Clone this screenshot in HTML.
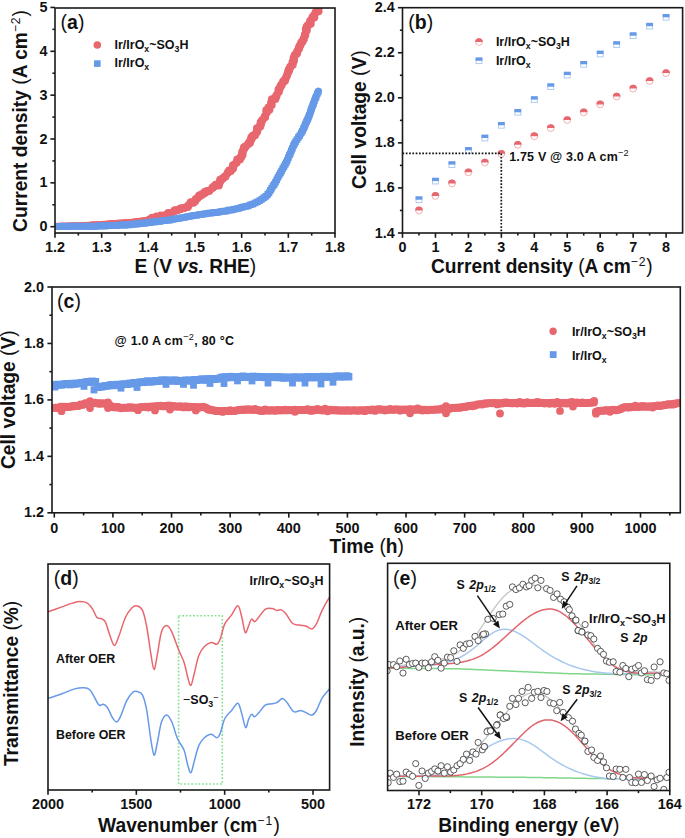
<!DOCTYPE html>
<html><head><meta charset="utf-8"><style>
html,body{margin:0;padding:0;background:#fff;width:685px;height:838px;overflow:hidden}
svg{display:block}
text{font-family:"Liberation Sans",sans-serif}
</style></head><body>
<svg width="685" height="838" viewBox="0 0 685 838">
<defs>
<clipPath id="ca"><rect x="55" y="8" width="280" height="225"/></clipPath>
<clipPath id="cc"><rect x="52" y="287" width="628.3" height="225.79999999999995"/></clipPath>
<clipPath id="ce"><rect x="387.6" y="563.3" width="282.19999999999993" height="227.20000000000005"/></clipPath>
</defs>
<rect width="685" height="838" fill="#fff"/>
<g clip-path="url(#ca)">
<path d="M55,226.3 C59.17,226.18 72.5,225.9 80,225.6 C87.5,225.3 91.67,225.03 100,224.5 C108.33,223.97 121.67,223.17 130,222.4 C138.33,221.63 144.17,221.2 150,219.9 C155.83,218.6 160.83,216.03 165,214.6 C169.17,213.17 171.67,212.45 175,211.3 C178.33,210.15 181.87,209.45 185,207.7 C188.13,205.95 190.38,203.18 193.8,200.8 C197.22,198.42 202.55,195.33 205.5,193.4 C208.45,191.47 209.42,190.73 211.5,189.2 C213.58,187.67 215.83,186.15 218,184.2 C220.17,182.25 222.33,179.95 224.5,177.5 C226.67,175.05 228.82,172.35 231,169.5 C233.18,166.65 235.82,162.93 237.6,160.4 C239.38,157.87 240.35,156.5 241.7,154.3 C243.05,152.1 244.35,149.58 245.7,147.2 C247.05,144.82 248.62,141.57 249.8,140 C250.98,138.43 251.02,140.55 252.8,137.8 C254.58,135.05 258.22,127.67 260.5,123.5 C262.78,119.33 264.72,116.18 266.5,112.8 C268.28,109.42 269.28,106.58 271.2,103.2 C273.12,99.82 276.03,95.88 278,92.5 C279.97,89.12 281.33,86.08 283,82.9 C284.67,79.72 286.5,76.38 288,73.4 C289.5,70.42 290.83,67.78 292,65 C293.17,62.22 293.98,59.47 295,56.7 C296.02,53.93 296.88,50.98 298.1,48.4 C299.32,45.82 301.13,43.77 302.3,41.2 C303.47,38.63 303.43,36.88 305.1,33 C306.77,29.12 310.2,21.77 312.3,17.9 C314.4,14.03 316.42,11.7 317.7,9.8 C318.98,7.9 319.62,7.05 320,6.5" fill="none" stroke="#e8676f" stroke-width="6.8" stroke-linejoin="round" stroke-linecap="round" />
<circle cx="57.4" cy="226.23" r="3.5" fill="#e8676f"/>
<circle cx="59.8" cy="226.17" r="3.5" fill="#e8676f"/>
<circle cx="62.2" cy="226.1" r="3.5" fill="#e8676f"/>
<circle cx="64.6" cy="226.03" r="3.5" fill="#e8676f"/>
<circle cx="67" cy="225.96" r="3.5" fill="#e8676f"/>
<circle cx="69.39" cy="225.9" r="3.5" fill="#e8676f"/>
<circle cx="71.79" cy="225.83" r="3.5" fill="#e8676f"/>
<circle cx="74.19" cy="225.76" r="3.5" fill="#e8676f"/>
<circle cx="76.59" cy="225.7" r="3.5" fill="#e8676f"/>
<circle cx="78.99" cy="225.63" r="3.5" fill="#e8676f"/>
<circle cx="81.39" cy="225.52" r="3.5" fill="#e8676f"/>
<circle cx="83.78" cy="225.39" r="3.5" fill="#e8676f"/>
<circle cx="86.18" cy="225.26" r="3.5" fill="#e8676f"/>
<circle cx="88.58" cy="225.13" r="3.5" fill="#e8676f"/>
<circle cx="90.97" cy="225" r="3.5" fill="#e8676f"/>
<circle cx="93.37" cy="224.86" r="3.5" fill="#e8676f"/>
<circle cx="95.77" cy="224.73" r="3.5" fill="#e8676f"/>
<circle cx="98.16" cy="224.6" r="3.5" fill="#e8676f"/>
<circle cx="100.56" cy="224.46" r="3.5" fill="#e8676f"/>
<circle cx="102.95" cy="224.29" r="3.5" fill="#e8676f"/>
<circle cx="105.35" cy="224.13" r="3.5" fill="#e8676f"/>
<circle cx="107.74" cy="223.96" r="3.5" fill="#e8676f"/>
<circle cx="110.14" cy="223.79" r="3.5" fill="#e8676f"/>
<circle cx="112.53" cy="223.62" r="3.5" fill="#e8676f"/>
<circle cx="114.92" cy="223.46" r="3.5" fill="#e8676f"/>
<circle cx="117.32" cy="223.29" r="3.5" fill="#e8676f"/>
<circle cx="119.71" cy="223.12" r="3.5" fill="#e8676f"/>
<circle cx="122.11" cy="222.95" r="3.5" fill="#e8676f"/>
<circle cx="124.5" cy="222.78" r="3.5" fill="#e8676f"/>
<circle cx="126.89" cy="222.62" r="3.5" fill="#e8676f"/>
<circle cx="129.29" cy="222.45" r="3.5" fill="#e8676f"/>
<circle cx="131.67" cy="222.19" r="3.5" fill="#e8676f"/>
<circle cx="134.06" cy="221.89" r="3.5" fill="#e8676f"/>
<circle cx="136.44" cy="221.6" r="3.5" fill="#e8676f"/>
<circle cx="138.82" cy="221.3" r="3.5" fill="#e8676f"/>
<circle cx="141.2" cy="221" r="3.5" fill="#e8676f"/>
<circle cx="143.58" cy="220.7" r="3.5" fill="#e8676f"/>
<circle cx="145.96" cy="220.4" r="3.5" fill="#e8676f"/>
<circle cx="148.34" cy="220.11" r="3.5" fill="#e8676f"/>
<circle cx="149.54" cy="219.56" r="4.1" fill="#e8676f"/>
<circle cx="152.16" cy="217.94" r="4.1" fill="#e8676f"/>
<circle cx="154.16" cy="218.7" r="4.1" fill="#e8676f"/>
<circle cx="156.59" cy="216.65" r="4.1" fill="#e8676f"/>
<circle cx="159.48" cy="217.35" r="4.1" fill="#e8676f"/>
<circle cx="161" cy="215.54" r="4.1" fill="#e8676f"/>
<circle cx="164.39" cy="215.78" r="4.1" fill="#e8676f"/>
<circle cx="167.31" cy="214.97" r="4.1" fill="#e8676f"/>
<circle cx="168.29" cy="213.14" r="4.1" fill="#e8676f"/>
<circle cx="170.76" cy="213.51" r="4.1" fill="#e8676f"/>
<circle cx="174.48" cy="211" r="4.1" fill="#e8676f"/>
<circle cx="174.87" cy="210.42" r="4.1" fill="#e8676f"/>
<circle cx="177.27" cy="210.22" r="4.1" fill="#e8676f"/>
<circle cx="180.38" cy="208.87" r="4.1" fill="#e8676f"/>
<circle cx="181.24" cy="208.43" r="4.1" fill="#e8676f"/>
<circle cx="184.37" cy="207.97" r="4.1" fill="#e8676f"/>
<circle cx="187.71" cy="206.88" r="4.1" fill="#e8676f"/>
<circle cx="188.55" cy="205.23" r="4.1" fill="#e8676f"/>
<circle cx="190.82" cy="202.39" r="4.1" fill="#e8676f"/>
<circle cx="193.25" cy="202.66" r="4.1" fill="#e8676f"/>
<circle cx="195.11" cy="201.26" r="4.1" fill="#e8676f"/>
<circle cx="195.98" cy="199.02" r="4.1" fill="#e8676f"/>
<circle cx="197.31" cy="198.3" r="4.1" fill="#e8676f"/>
<circle cx="199.24" cy="195.66" r="4.1" fill="#e8676f"/>
<circle cx="201.62" cy="194.6" r="4.1" fill="#e8676f"/>
<circle cx="203.96" cy="193.05" r="4.1" fill="#e8676f"/>
<circle cx="205.15" cy="191.97" r="4.1" fill="#e8676f"/>
<circle cx="207.36" cy="191.1" r="4.1" fill="#e8676f"/>
<circle cx="209.14" cy="190.95" r="4.1" fill="#e8676f"/>
<circle cx="212.5" cy="187.8" r="4.1" fill="#e8676f"/>
<circle cx="213.53" cy="186.81" r="4.1" fill="#e8676f"/>
<circle cx="215.7" cy="184.81" r="4.1" fill="#e8676f"/>
<circle cx="218.77" cy="185.44" r="4.1" fill="#e8676f"/>
<circle cx="219.53" cy="182.5" r="4.1" fill="#e8676f"/>
<circle cx="220.29" cy="179.86" r="4.1" fill="#e8676f"/>
<circle cx="222.57" cy="178.53" r="4.1" fill="#e8676f"/>
<circle cx="225.4" cy="176.55" r="4.1" fill="#e8676f"/>
<circle cx="224.98" cy="176.58" r="4.1" fill="#e8676f"/>
<circle cx="227.71" cy="172.79" r="4.1" fill="#e8676f"/>
<circle cx="229.26" cy="170.64" r="4.1" fill="#e8676f"/>
<circle cx="230.73" cy="171.06" r="4.1" fill="#e8676f"/>
<circle cx="232.97" cy="168.46" r="4.1" fill="#e8676f"/>
<circle cx="232.93" cy="165.72" r="4.1" fill="#e8676f"/>
<circle cx="234.12" cy="164.75" r="4.1" fill="#e8676f"/>
<circle cx="236.4" cy="162.83" r="4.1" fill="#e8676f"/>
<circle cx="237.32" cy="159.55" r="4.1" fill="#e8676f"/>
<circle cx="239.81" cy="159.38" r="4.1" fill="#e8676f"/>
<circle cx="241.25" cy="156.96" r="4.1" fill="#e8676f"/>
<circle cx="242.5" cy="154.81" r="4.1" fill="#e8676f"/>
<circle cx="242.26" cy="152.18" r="4.1" fill="#e8676f"/>
<circle cx="243.75" cy="148.92" r="4.1" fill="#e8676f"/>
<circle cx="244.14" cy="147.43" r="4.1" fill="#e8676f"/>
<circle cx="245.88" cy="146.33" r="4.1" fill="#e8676f"/>
<circle cx="248.74" cy="143.66" r="4.1" fill="#e8676f"/>
<circle cx="249.88" cy="142.87" r="4.1" fill="#e8676f"/>
<circle cx="251.25" cy="139.41" r="4.1" fill="#e8676f"/>
<circle cx="251.42" cy="137.66" r="4.1" fill="#e8676f"/>
<circle cx="252.79" cy="135.75" r="4.1" fill="#e8676f"/>
<circle cx="254.96" cy="135.31" r="4.1" fill="#e8676f"/>
<circle cx="256.62" cy="132.18" r="4.1" fill="#e8676f"/>
<circle cx="257.3" cy="130.84" r="4.1" fill="#e8676f"/>
<circle cx="257.08" cy="128.39" r="4.1" fill="#e8676f"/>
<circle cx="260.2" cy="126.57" r="4.1" fill="#e8676f"/>
<circle cx="260.95" cy="123.73" r="4.1" fill="#e8676f"/>
<circle cx="260.75" cy="122.38" r="4.1" fill="#e8676f"/>
<circle cx="262.29" cy="120.31" r="4.1" fill="#e8676f"/>
<circle cx="265" cy="117.25" r="4.1" fill="#e8676f"/>
<circle cx="264.8" cy="116.48" r="4.1" fill="#e8676f"/>
<circle cx="266.75" cy="112.52" r="4.1" fill="#e8676f"/>
<circle cx="266.4" cy="110.33" r="4.1" fill="#e8676f"/>
<circle cx="269.32" cy="109.75" r="4.1" fill="#e8676f"/>
<circle cx="268.56" cy="107.64" r="4.1" fill="#e8676f"/>
<circle cx="271.62" cy="105.08" r="4.1" fill="#e8676f"/>
<circle cx="271.23" cy="102.7" r="4.1" fill="#e8676f"/>
<circle cx="271.99" cy="99.4" r="4.1" fill="#e8676f"/>
<circle cx="275.29" cy="98.9" r="4.1" fill="#e8676f"/>
<circle cx="275.52" cy="97.55" r="4.1" fill="#e8676f"/>
<circle cx="276.58" cy="95.38" r="4.1" fill="#e8676f"/>
<circle cx="278.81" cy="91.76" r="4.1" fill="#e8676f"/>
<circle cx="278.54" cy="89.83" r="4.1" fill="#e8676f"/>
<circle cx="279.62" cy="88.41" r="4.1" fill="#e8676f"/>
<circle cx="280.77" cy="85.88" r="4.1" fill="#e8676f"/>
<circle cx="281.57" cy="84.93" r="4.1" fill="#e8676f"/>
<circle cx="283.22" cy="81.72" r="4.1" fill="#e8676f"/>
<circle cx="284.89" cy="80.66" r="4.1" fill="#e8676f"/>
<circle cx="285.62" cy="78.57" r="4.1" fill="#e8676f"/>
<circle cx="286.93" cy="75.52" r="4.1" fill="#e8676f"/>
<circle cx="288.09" cy="72.16" r="4.1" fill="#e8676f"/>
<circle cx="288.93" cy="70.39" r="4.1" fill="#e8676f"/>
<circle cx="288.91" cy="69.7" r="4.1" fill="#e8676f"/>
<circle cx="290.35" cy="66.76" r="4.1" fill="#e8676f"/>
<circle cx="292.67" cy="64.77" r="4.1" fill="#e8676f"/>
<circle cx="292.53" cy="62.42" r="4.1" fill="#e8676f"/>
<circle cx="293.9" cy="60.81" r="4.1" fill="#e8676f"/>
<circle cx="293.63" cy="58.01" r="4.1" fill="#e8676f"/>
<circle cx="294.8" cy="55.08" r="4.1" fill="#e8676f"/>
<circle cx="296.9" cy="53.38" r="4.1" fill="#e8676f"/>
<circle cx="297.23" cy="51.74" r="4.1" fill="#e8676f"/>
<circle cx="298.91" cy="48.73" r="4.1" fill="#e8676f"/>
<circle cx="299.33" cy="46.77" r="4.1" fill="#e8676f"/>
<circle cx="300.3" cy="45.15" r="4.1" fill="#e8676f"/>
<circle cx="301.36" cy="42.69" r="4.1" fill="#e8676f"/>
<circle cx="302.49" cy="41.54" r="4.1" fill="#e8676f"/>
<circle cx="303.8" cy="39.11" r="4.1" fill="#e8676f"/>
<circle cx="305.16" cy="35.36" r="4.1" fill="#e8676f"/>
<circle cx="305.02" cy="34.73" r="4.1" fill="#e8676f"/>
<circle cx="306.65" cy="30.6" r="4.1" fill="#e8676f"/>
<circle cx="305.96" cy="29.16" r="4.1" fill="#e8676f"/>
<circle cx="306.87" cy="26.51" r="4.1" fill="#e8676f"/>
<circle cx="307.91" cy="25.37" r="4.1" fill="#e8676f"/>
<circle cx="310.64" cy="23.75" r="4.1" fill="#e8676f"/>
<circle cx="310.17" cy="21.15" r="4.1" fill="#e8676f"/>
<circle cx="312.41" cy="17.61" r="4.1" fill="#e8676f"/>
<circle cx="314.2" cy="17.55" r="4.1" fill="#e8676f"/>
<circle cx="313.94" cy="15.52" r="4.1" fill="#e8676f"/>
<circle cx="315.7" cy="12.4" r="4.1" fill="#e8676f"/>
<circle cx="318.45" cy="11.23" r="4.1" fill="#e8676f"/>
<circle cx="317.82" cy="8.29" r="4.1" fill="#e8676f"/>
<path d="M55,226.5 C62.5,226.43 87.5,226.4 100,226.1 C112.5,225.8 121.67,225.32 130,224.7 C138.33,224.08 143.33,223.22 150,222.4 C156.67,221.58 164.17,220.62 170,219.8 C175.83,218.98 180.83,218.25 185,217.5 C189.17,216.75 190,216.1 195,215.3 C200,214.5 208.33,213.72 215,212.7 C221.67,211.68 229.17,210.47 235,209.2 C240.83,207.93 245.83,206.53 250,205.1 C254.17,203.67 257.17,202.15 260,200.6 C262.83,199.05 264.75,198.32 267,195.8 C269.25,193.28 271.38,189.07 273.5,185.5 C275.62,181.93 277.7,178 279.7,174.4 C281.7,170.8 283.75,167.4 285.5,163.9 C287.25,160.4 288.63,156.92 290.2,153.4 C291.77,149.88 292.95,146.32 294.9,142.8 C296.85,139.28 299.6,136.6 301.9,132.3 C304.2,128 307.12,120.88 308.7,117 C310.28,113.12 310.2,112.33 311.4,109 C312.6,105.67 314.7,100 315.9,97 C317.1,94 318.15,92 318.6,91" fill="none" stroke="#6699e8" stroke-width="6.8" stroke-linejoin="round" stroke-linecap="round" />
<rect x="54.2" y="223.19" width="6.6" height="6.6" fill="#6699e8"/>
<rect x="56.7" y="223.03" width="6.6" height="6.6" fill="#6699e8"/>
<rect x="59.2" y="222.89" width="6.6" height="6.6" fill="#6699e8"/>
<rect x="61.7" y="222.97" width="6.6" height="6.6" fill="#6699e8"/>
<rect x="64.2" y="223.27" width="6.6" height="6.6" fill="#6699e8"/>
<rect x="66.7" y="222.68" width="6.6" height="6.6" fill="#6699e8"/>
<rect x="69.2" y="223.09" width="6.6" height="6.6" fill="#6699e8"/>
<rect x="71.7" y="222.97" width="6.6" height="6.6" fill="#6699e8"/>
<rect x="74.2" y="222.61" width="6.6" height="6.6" fill="#6699e8"/>
<rect x="76.7" y="222.84" width="6.6" height="6.6" fill="#6699e8"/>
<rect x="79.2" y="223.05" width="6.6" height="6.6" fill="#6699e8"/>
<rect x="81.7" y="222.94" width="6.6" height="6.6" fill="#6699e8"/>
<rect x="84.2" y="222.56" width="6.6" height="6.6" fill="#6699e8"/>
<rect x="86.7" y="223.28" width="6.6" height="6.6" fill="#6699e8"/>
<rect x="89.2" y="223.1" width="6.6" height="6.6" fill="#6699e8"/>
<rect x="91.7" y="223.22" width="6.6" height="6.6" fill="#6699e8"/>
<rect x="94.2" y="222.51" width="6.6" height="6.6" fill="#6699e8"/>
<rect x="96.7" y="222.61" width="6.6" height="6.6" fill="#6699e8"/>
<rect x="99.2" y="222.32" width="6.6" height="6.6" fill="#6699e8"/>
<rect x="101.69" y="222.79" width="6.6" height="6.6" fill="#6699e8"/>
<rect x="104.19" y="222.27" width="6.6" height="6.6" fill="#6699e8"/>
<rect x="106.69" y="222.04" width="6.6" height="6.6" fill="#6699e8"/>
<rect x="109.18" y="222.16" width="6.6" height="6.6" fill="#6699e8"/>
<rect x="111.68" y="222.43" width="6.6" height="6.6" fill="#6699e8"/>
<rect x="114.18" y="222.24" width="6.6" height="6.6" fill="#6699e8"/>
<rect x="116.68" y="221.67" width="6.6" height="6.6" fill="#6699e8"/>
<rect x="119.17" y="221.47" width="6.6" height="6.6" fill="#6699e8"/>
<rect x="121.67" y="221.97" width="6.6" height="6.6" fill="#6699e8"/>
<rect x="124.17" y="221.57" width="6.6" height="6.6" fill="#6699e8"/>
<rect x="126.67" y="221.56" width="6.6" height="6.6" fill="#6699e8"/>
<rect x="129.15" y="220.79" width="6.6" height="6.6" fill="#6699e8"/>
<rect x="131.63" y="220.48" width="6.6" height="6.6" fill="#6699e8"/>
<rect x="134.12" y="220.7" width="6.6" height="6.6" fill="#6699e8"/>
<rect x="136.6" y="220.2" width="6.6" height="6.6" fill="#6699e8"/>
<rect x="139.08" y="219.63" width="6.6" height="6.6" fill="#6699e8"/>
<rect x="141.57" y="220.04" width="6.6" height="6.6" fill="#6699e8"/>
<rect x="144.05" y="219.51" width="6.6" height="6.6" fill="#6699e8"/>
<rect x="146.53" y="219.36" width="6.6" height="6.6" fill="#6699e8"/>
<rect x="149.01" y="218.47" width="6.6" height="6.6" fill="#6699e8"/>
<rect x="151.49" y="218.76" width="6.6" height="6.6" fill="#6699e8"/>
<rect x="153.97" y="217.81" width="6.6" height="6.6" fill="#6699e8"/>
<rect x="156.45" y="218.12" width="6.6" height="6.6" fill="#6699e8"/>
<rect x="158.93" y="217.47" width="6.6" height="6.6" fill="#6699e8"/>
<rect x="161.41" y="217.06" width="6.6" height="6.6" fill="#6699e8"/>
<rect x="163.89" y="216.91" width="6.6" height="6.6" fill="#6699e8"/>
<rect x="166.37" y="216.88" width="6.6" height="6.6" fill="#6699e8"/>
<rect x="168.84" y="215.99" width="6.6" height="6.6" fill="#6699e8"/>
<rect x="171.31" y="215.5" width="6.6" height="6.6" fill="#6699e8"/>
<rect x="173.78" y="215.44" width="6.6" height="6.6" fill="#6699e8"/>
<rect x="176.25" y="214.83" width="6.6" height="6.6" fill="#6699e8"/>
<rect x="178.72" y="214.34" width="6.6" height="6.6" fill="#6699e8"/>
<rect x="181.2" y="214.01" width="6.6" height="6.6" fill="#6699e8"/>
<rect x="183.64" y="213.41" width="6.6" height="6.6" fill="#6699e8"/>
<rect x="186.09" y="213" width="6.6" height="6.6" fill="#6699e8"/>
<rect x="188.53" y="212.55" width="6.6" height="6.6" fill="#6699e8"/>
<rect x="190.97" y="212" width="6.6" height="6.6" fill="#6699e8"/>
<rect x="193.44" y="211.98" width="6.6" height="6.6" fill="#6699e8"/>
<rect x="195.92" y="211.28" width="6.6" height="6.6" fill="#6699e8"/>
<rect x="198.39" y="211.13" width="6.6" height="6.6" fill="#6699e8"/>
<rect x="200.87" y="210.55" width="6.6" height="6.6" fill="#6699e8"/>
<rect x="203.35" y="210.36" width="6.6" height="6.6" fill="#6699e8"/>
<rect x="205.83" y="209.78" width="6.6" height="6.6" fill="#6699e8"/>
<rect x="208.31" y="209.64" width="6.6" height="6.6" fill="#6699e8"/>
<rect x="210.79" y="209.13" width="6.6" height="6.6" fill="#6699e8"/>
<rect x="213.26" y="209.31" width="6.6" height="6.6" fill="#6699e8"/>
<rect x="215.72" y="208.74" width="6.6" height="6.6" fill="#6699e8"/>
<rect x="218.18" y="208.02" width="6.6" height="6.6" fill="#6699e8"/>
<rect x="220.65" y="207.81" width="6.6" height="6.6" fill="#6699e8"/>
<rect x="223.11" y="207.75" width="6.6" height="6.6" fill="#6699e8"/>
<rect x="225.57" y="206.66" width="6.6" height="6.6" fill="#6699e8"/>
<rect x="228.03" y="206.8" width="6.6" height="6.6" fill="#6699e8"/>
<rect x="230.5" y="206.06" width="6.6" height="6.6" fill="#6699e8"/>
<rect x="232.93" y="205.56" width="6.6" height="6.6" fill="#6699e8"/>
<rect x="235.35" y="205.17" width="6.6" height="6.6" fill="#6699e8"/>
<rect x="237.76" y="204.16" width="6.6" height="6.6" fill="#6699e8"/>
<rect x="240.17" y="203.59" width="6.6" height="6.6" fill="#6699e8"/>
<rect x="242.58" y="203.08" width="6.6" height="6.6" fill="#6699e8"/>
<rect x="244.99" y="202.65" width="6.6" height="6.6" fill="#6699e8"/>
<rect x="247.36" y="201.38" width="6.6" height="6.6" fill="#6699e8"/>
<rect x="249.64" y="200.74" width="6.6" height="6.6" fill="#6699e8"/>
<rect x="251.92" y="199.61" width="6.6" height="6.6" fill="#6699e8"/>
<rect x="254.2" y="198.53" width="6.6" height="6.6" fill="#6699e8"/>
<rect x="256.48" y="197.32" width="6.6" height="6.6" fill="#6699e8"/>
<rect x="258.57" y="195.9" width="6.6" height="6.6" fill="#6699e8"/>
<rect x="260.63" y="194.25" width="6.6" height="6.6" fill="#6699e8"/>
<rect x="262.69" y="192.9" width="6.6" height="6.6" fill="#6699e8"/>
<rect x="264.38" y="191.08" width="6.6" height="6.6" fill="#6699e8"/>
<rect x="265.71" y="189.5" width="6.6" height="6.6" fill="#6699e8"/>
<rect x="267.05" y="187" width="6.6" height="6.6" fill="#6699e8"/>
<rect x="268.38" y="184.81" width="6.6" height="6.6" fill="#6699e8"/>
<rect x="269.72" y="182.63" width="6.6" height="6.6" fill="#6699e8"/>
<rect x="270.98" y="181.08" width="6.6" height="6.6" fill="#6699e8"/>
<rect x="272.2" y="178.92" width="6.6" height="6.6" fill="#6699e8"/>
<rect x="273.42" y="176.58" width="6.6" height="6.6" fill="#6699e8"/>
<rect x="274.64" y="174.08" width="6.6" height="6.6" fill="#6699e8"/>
<rect x="275.85" y="171.87" width="6.6" height="6.6" fill="#6699e8"/>
<rect x="277.07" y="169.73" width="6.6" height="6.6" fill="#6699e8"/>
<rect x="278.28" y="167.67" width="6.6" height="6.6" fill="#6699e8"/>
<rect x="279.49" y="165.24" width="6.6" height="6.6" fill="#6699e8"/>
<rect x="280.69" y="163.28" width="6.6" height="6.6" fill="#6699e8"/>
<rect x="281.9" y="160.95" width="6.6" height="6.6" fill="#6699e8"/>
<rect x="282.97" y="159.25" width="6.6" height="6.6" fill="#6699e8"/>
<rect x="283.99" y="156.97" width="6.6" height="6.6" fill="#6699e8"/>
<rect x="285.01" y="154.35" width="6.6" height="6.6" fill="#6699e8"/>
<rect x="286.03" y="151.83" width="6.6" height="6.6" fill="#6699e8"/>
<rect x="287.05" y="150.12" width="6.6" height="6.6" fill="#6699e8"/>
<rect x="288.07" y="147.31" width="6.6" height="6.6" fill="#6699e8"/>
<rect x="289.08" y="145.07" width="6.6" height="6.6" fill="#6699e8"/>
<rect x="290.09" y="142.5" width="6.6" height="6.6" fill="#6699e8"/>
<rect x="291.11" y="140.51" width="6.6" height="6.6" fill="#6699e8"/>
<rect x="292.31" y="138.41" width="6.6" height="6.6" fill="#6699e8"/>
<rect x="293.7" y="136.35" width="6.6" height="6.6" fill="#6699e8"/>
<rect x="295.09" y="134.03" width="6.6" height="6.6" fill="#6699e8"/>
<rect x="296.47" y="132.19" width="6.6" height="6.6" fill="#6699e8"/>
<rect x="297.86" y="129.71" width="6.6" height="6.6" fill="#6699e8"/>
<rect x="299.07" y="127.74" width="6.6" height="6.6" fill="#6699e8"/>
<rect x="300.09" y="125.32" width="6.6" height="6.6" fill="#6699e8"/>
<rect x="301.1" y="123.28" width="6.6" height="6.6" fill="#6699e8"/>
<rect x="302.12" y="120.71" width="6.6" height="6.6" fill="#6699e8"/>
<rect x="303.14" y="118.41" width="6.6" height="6.6" fill="#6699e8"/>
<rect x="304.15" y="116.35" width="6.6" height="6.6" fill="#6699e8"/>
<rect x="305.17" y="114.01" width="6.6" height="6.6" fill="#6699e8"/>
<rect x="306.02" y="111.95" width="6.6" height="6.6" fill="#6699e8"/>
<rect x="306.81" y="109.53" width="6.6" height="6.6" fill="#6699e8"/>
<rect x="307.61" y="107.34" width="6.6" height="6.6" fill="#6699e8"/>
<rect x="308.44" y="104.91" width="6.6" height="6.6" fill="#6699e8"/>
<rect x="309.32" y="102.61" width="6.6" height="6.6" fill="#6699e8"/>
<rect x="310.2" y="100.4" width="6.6" height="6.6" fill="#6699e8"/>
<rect x="311.08" y="97.67" width="6.6" height="6.6" fill="#6699e8"/>
<rect x="311.96" y="95.28" width="6.6" height="6.6" fill="#6699e8"/>
<rect x="312.87" y="93.48" width="6.6" height="6.6" fill="#6699e8"/>
<rect x="313.9" y="90.53" width="6.6" height="6.6" fill="#6699e8"/>
<rect x="314.92" y="88.71" width="6.6" height="6.6" fill="#6699e8"/>
</g>
<rect x="55" y="8" width="280" height="225" fill="none" stroke="#1a1a1a" stroke-width="1.6"/>
<line x1="55" y1="233" x2="55" y2="237.8" stroke="#1a1a1a" stroke-width="1.6" />
<line x1="101.67" y1="233" x2="101.67" y2="237.8" stroke="#1a1a1a" stroke-width="1.6" />
<line x1="148.33" y1="233" x2="148.33" y2="237.8" stroke="#1a1a1a" stroke-width="1.6" />
<line x1="195" y1="233" x2="195" y2="237.8" stroke="#1a1a1a" stroke-width="1.6" />
<line x1="241.67" y1="233" x2="241.67" y2="237.8" stroke="#1a1a1a" stroke-width="1.6" />
<line x1="288.34" y1="233" x2="288.34" y2="237.8" stroke="#1a1a1a" stroke-width="1.6" />
<line x1="335" y1="233" x2="335" y2="237.8" stroke="#1a1a1a" stroke-width="1.6" />
<line x1="78.33" y1="233" x2="78.33" y2="235.6" stroke="#1a1a1a" stroke-width="1.6" />
<line x1="125" y1="233" x2="125" y2="235.6" stroke="#1a1a1a" stroke-width="1.6" />
<line x1="171.67" y1="233" x2="171.67" y2="235.6" stroke="#1a1a1a" stroke-width="1.6" />
<line x1="218.33" y1="233" x2="218.33" y2="235.6" stroke="#1a1a1a" stroke-width="1.6" />
<line x1="265" y1="233" x2="265" y2="235.6" stroke="#1a1a1a" stroke-width="1.6" />
<line x1="311.67" y1="233" x2="311.67" y2="235.6" stroke="#1a1a1a" stroke-width="1.6" />
<line x1="50.4" y1="226.7" x2="55" y2="226.7" stroke="#1a1a1a" stroke-width="1.6" />
<line x1="50.4" y1="182.85" x2="55" y2="182.85" stroke="#1a1a1a" stroke-width="1.6" />
<line x1="50.4" y1="139" x2="55" y2="139" stroke="#1a1a1a" stroke-width="1.6" />
<line x1="50.4" y1="95.15" x2="55" y2="95.15" stroke="#1a1a1a" stroke-width="1.6" />
<line x1="50.4" y1="51.3" x2="55" y2="51.3" stroke="#1a1a1a" stroke-width="1.6" />
<line x1="50.4" y1="7.45" x2="55" y2="7.45" stroke="#1a1a1a" stroke-width="1.6" />
<line x1="52.4" y1="204.77" x2="55" y2="204.77" stroke="#1a1a1a" stroke-width="1.6" />
<line x1="52.4" y1="160.92" x2="55" y2="160.92" stroke="#1a1a1a" stroke-width="1.6" />
<line x1="52.4" y1="117.07" x2="55" y2="117.07" stroke="#1a1a1a" stroke-width="1.6" />
<line x1="52.4" y1="73.22" x2="55" y2="73.22" stroke="#1a1a1a" stroke-width="1.6" />
<line x1="52.4" y1="29.37" x2="55" y2="29.37" stroke="#1a1a1a" stroke-width="1.6" />
<text transform="translate(55 252.3) scale(1 1.04)" font-size="14.4" font-weight="bold" text-anchor="middle" fill="#111" >1.2</text>
<text transform="translate(101.67 252.3) scale(1 1.04)" font-size="14.4" font-weight="bold" text-anchor="middle" fill="#111" >1.3</text>
<text transform="translate(148.33 252.3) scale(1 1.04)" font-size="14.4" font-weight="bold" text-anchor="middle" fill="#111" >1.4</text>
<text transform="translate(195 252.3) scale(1 1.04)" font-size="14.4" font-weight="bold" text-anchor="middle" fill="#111" >1.5</text>
<text transform="translate(241.67 252.3) scale(1 1.04)" font-size="14.4" font-weight="bold" text-anchor="middle" fill="#111" >1.6</text>
<text transform="translate(288.34 252.3) scale(1 1.04)" font-size="14.4" font-weight="bold" text-anchor="middle" fill="#111" >1.7</text>
<text transform="translate(335 252.3) scale(1 1.04)" font-size="14.4" font-weight="bold" text-anchor="middle" fill="#111" >1.8</text>
<text transform="translate(47.5 231.2) scale(1 1.04)" font-size="14.4" font-weight="bold" text-anchor="end" fill="#111" >0</text>
<text transform="translate(47.5 187.35) scale(1 1.04)" font-size="14.4" font-weight="bold" text-anchor="end" fill="#111" >1</text>
<text transform="translate(47.5 143.5) scale(1 1.04)" font-size="14.4" font-weight="bold" text-anchor="end" fill="#111" >2</text>
<text transform="translate(47.5 99.65) scale(1 1.04)" font-size="14.4" font-weight="bold" text-anchor="end" fill="#111" >3</text>
<text transform="translate(47.5 55.8) scale(1 1.04)" font-size="14.4" font-weight="bold" text-anchor="end" fill="#111" >4</text>
<text transform="translate(47.5 11.95) scale(1 1.04)" font-size="14.4" font-weight="bold" text-anchor="end" fill="#111" >5</text>
<text transform="translate(134.6 272.6) scale(1 1.04)" font-size="19.2" font-weight="bold" text-anchor="start" fill="#111" >E <tspan font-weight="normal">(</tspan>V <tspan font-style="italic">vs.</tspan> RHE<tspan font-weight="normal">)</tspan></text>
<text transform="translate(26.7 121) rotate(-90) scale(1 1.04)" font-size="19.2" font-weight="bold" text-anchor="middle" fill="#111" >Current density <tspan font-weight="normal">(</tspan>A cm<tspan baseline-shift="7" font-size="63%" font-weight="normal" letter-spacing="0.9">&#8722;2</tspan><tspan font-weight="normal">)</tspan></text>
<text transform="translate(60.6 28.9) scale(1 1.04)" font-size="19.5" font-weight="bold" text-anchor="start" fill="#111" ><tspan font-weight="normal">(</tspan>a<tspan font-weight="normal">)</tspan></text>
<circle cx="97.3" cy="45" r="3.8" fill="#e8676f"/>
<rect x="94" y="60.3" width="6.6" height="6.6" fill="#6699e8"/>
<text transform="translate(114.5 48.6) scale(1 1.04)" font-size="12.5" font-weight="bold" text-anchor="start" fill="#111" >Ir/IrO<tspan baseline-shift="-3.2" font-size="70%">x</tspan>~SO<tspan baseline-shift="-3.2" font-size="70%">3</tspan>H</text>
<text transform="translate(114.5 67.2) scale(1 1.04)" font-size="12.5" font-weight="bold" text-anchor="start" fill="#111" >Ir/IrO<tspan baseline-shift="-3.2" font-size="70%">x</tspan></text>
<circle cx="418.98" cy="210.4" r="3.4" fill="#fff" stroke="#f0a5aa" stroke-width="0.9"/>
<path d="M415.12,210.4 A3.85,3.85 0 0 1 422.83,210.4 Z" fill="#e8676f"/>
<rect x="416.03" y="196.85" width="5.9" height="5.7" fill="#fff" stroke="#a9c6f2" stroke-width="0.9"/>
<rect x="415.58" y="196.4" width="6.8" height="3.3" fill="#6699e8"/>
<circle cx="435.45" cy="195.9" r="3.4" fill="#fff" stroke="#f0a5aa" stroke-width="0.9"/>
<path d="M431.6,195.9 A3.85,3.85 0 0 1 439.3,195.9 Z" fill="#e8676f"/>
<rect x="432.5" y="178.25" width="5.9" height="5.7" fill="#fff" stroke="#a9c6f2" stroke-width="0.9"/>
<rect x="432.05" y="177.8" width="6.8" height="3.3" fill="#6699e8"/>
<circle cx="451.93" cy="183.4" r="3.4" fill="#fff" stroke="#f0a5aa" stroke-width="0.9"/>
<path d="M448.07,183.4 A3.85,3.85 0 0 1 455.78,183.4 Z" fill="#e8676f"/>
<rect x="448.98" y="161.75" width="5.9" height="5.7" fill="#fff" stroke="#a9c6f2" stroke-width="0.9"/>
<rect x="448.53" y="161.3" width="6.8" height="3.3" fill="#6699e8"/>
<circle cx="468.4" cy="172.3" r="3.4" fill="#fff" stroke="#f0a5aa" stroke-width="0.9"/>
<path d="M464.55,172.3 A3.85,3.85 0 0 1 472.25,172.3 Z" fill="#e8676f"/>
<rect x="465.45" y="147.45" width="5.9" height="5.7" fill="#fff" stroke="#a9c6f2" stroke-width="0.9"/>
<rect x="465" y="147" width="6.8" height="3.3" fill="#6699e8"/>
<circle cx="484.88" cy="162.5" r="3.4" fill="#fff" stroke="#f0a5aa" stroke-width="0.9"/>
<path d="M481.02,162.5 A3.85,3.85 0 0 1 488.73,162.5 Z" fill="#e8676f"/>
<rect x="481.93" y="135.15" width="5.9" height="5.7" fill="#fff" stroke="#a9c6f2" stroke-width="0.9"/>
<rect x="481.48" y="134.7" width="6.8" height="3.3" fill="#6699e8"/>
<circle cx="501.35" cy="153.8" r="3.4" fill="#fff" stroke="#f0a5aa" stroke-width="0.9"/>
<path d="M497.5,153.8 A3.85,3.85 0 0 1 505.2,153.8 Z" fill="#e8676f"/>
<rect x="498.4" y="122.45" width="5.9" height="5.7" fill="#fff" stroke="#a9c6f2" stroke-width="0.9"/>
<rect x="497.95" y="122" width="6.8" height="3.3" fill="#6699e8"/>
<circle cx="517.83" cy="144.8" r="3.4" fill="#fff" stroke="#f0a5aa" stroke-width="0.9"/>
<path d="M513.98,144.8 A3.85,3.85 0 0 1 521.68,144.8 Z" fill="#e8676f"/>
<rect x="514.88" y="109.45" width="5.9" height="5.7" fill="#fff" stroke="#a9c6f2" stroke-width="0.9"/>
<rect x="514.43" y="109" width="6.8" height="3.3" fill="#6699e8"/>
<circle cx="534.3" cy="136.2" r="3.4" fill="#fff" stroke="#f0a5aa" stroke-width="0.9"/>
<path d="M530.45,136.2 A3.85,3.85 0 0 1 538.15,136.2 Z" fill="#e8676f"/>
<rect x="531.35" y="96.75" width="5.9" height="5.7" fill="#fff" stroke="#a9c6f2" stroke-width="0.9"/>
<rect x="530.9" y="96.3" width="6.8" height="3.3" fill="#6699e8"/>
<circle cx="550.77" cy="128.1" r="3.4" fill="#fff" stroke="#f0a5aa" stroke-width="0.9"/>
<path d="M546.92,128.1 A3.85,3.85 0 0 1 554.62,128.1 Z" fill="#e8676f"/>
<rect x="547.83" y="83.85" width="5.9" height="5.7" fill="#fff" stroke="#a9c6f2" stroke-width="0.9"/>
<rect x="547.38" y="83.4" width="6.8" height="3.3" fill="#6699e8"/>
<circle cx="567.25" cy="120" r="3.4" fill="#fff" stroke="#f0a5aa" stroke-width="0.9"/>
<path d="M563.4,120 A3.85,3.85 0 0 1 571.1,120 Z" fill="#e8676f"/>
<rect x="564.3" y="72.25" width="5.9" height="5.7" fill="#fff" stroke="#a9c6f2" stroke-width="0.9"/>
<rect x="563.85" y="71.8" width="6.8" height="3.3" fill="#6699e8"/>
<circle cx="583.73" cy="112.3" r="3.4" fill="#fff" stroke="#f0a5aa" stroke-width="0.9"/>
<path d="M579.88,112.3 A3.85,3.85 0 0 1 587.58,112.3 Z" fill="#e8676f"/>
<rect x="580.78" y="61.45" width="5.9" height="5.7" fill="#fff" stroke="#a9c6f2" stroke-width="0.9"/>
<rect x="580.33" y="61" width="6.8" height="3.3" fill="#6699e8"/>
<circle cx="600.2" cy="104.4" r="3.4" fill="#fff" stroke="#f0a5aa" stroke-width="0.9"/>
<path d="M596.35,104.4 A3.85,3.85 0 0 1 604.05,104.4 Z" fill="#e8676f"/>
<rect x="597.25" y="51.15" width="5.9" height="5.7" fill="#fff" stroke="#a9c6f2" stroke-width="0.9"/>
<rect x="596.8" y="50.7" width="6.8" height="3.3" fill="#6699e8"/>
<circle cx="616.67" cy="96.5" r="3.4" fill="#fff" stroke="#f0a5aa" stroke-width="0.9"/>
<path d="M612.82,96.5 A3.85,3.85 0 0 1 620.52,96.5 Z" fill="#e8676f"/>
<rect x="613.73" y="41.75" width="5.9" height="5.7" fill="#fff" stroke="#a9c6f2" stroke-width="0.9"/>
<rect x="613.27" y="41.3" width="6.8" height="3.3" fill="#6699e8"/>
<circle cx="633.15" cy="88.6" r="3.4" fill="#fff" stroke="#f0a5aa" stroke-width="0.9"/>
<path d="M629.3,88.6 A3.85,3.85 0 0 1 637,88.6 Z" fill="#e8676f"/>
<rect x="630.2" y="32.85" width="5.9" height="5.7" fill="#fff" stroke="#a9c6f2" stroke-width="0.9"/>
<rect x="629.75" y="32.4" width="6.8" height="3.3" fill="#6699e8"/>
<circle cx="649.62" cy="81" r="3.4" fill="#fff" stroke="#f0a5aa" stroke-width="0.9"/>
<path d="M645.77,81 A3.85,3.85 0 0 1 653.48,81 Z" fill="#e8676f"/>
<rect x="646.68" y="23.35" width="5.9" height="5.7" fill="#fff" stroke="#a9c6f2" stroke-width="0.9"/>
<rect x="646.23" y="22.9" width="6.8" height="3.3" fill="#6699e8"/>
<circle cx="666.1" cy="73.1" r="3.4" fill="#fff" stroke="#f0a5aa" stroke-width="0.9"/>
<path d="M662.25,73.1 A3.85,3.85 0 0 1 669.95,73.1 Z" fill="#e8676f"/>
<rect x="663.15" y="14.45" width="5.9" height="5.7" fill="#fff" stroke="#a9c6f2" stroke-width="0.9"/>
<rect x="662.7" y="14" width="6.8" height="3.3" fill="#6699e8"/>
<path d="M402.5,153.4 H501.3 V233" fill="none" stroke="#111" stroke-width="1.7" stroke-dasharray="1.7,1.6"/>
<rect x="402.5" y="7.7" width="280.1" height="225.3" fill="none" stroke="#1a1a1a" stroke-width="1.6"/>
<line x1="402.5" y1="233" x2="402.5" y2="237.8" stroke="#1a1a1a" stroke-width="1.6" />
<line x1="435.45" y1="233" x2="435.45" y2="237.8" stroke="#1a1a1a" stroke-width="1.6" />
<line x1="468.4" y1="233" x2="468.4" y2="237.8" stroke="#1a1a1a" stroke-width="1.6" />
<line x1="501.35" y1="233" x2="501.35" y2="237.8" stroke="#1a1a1a" stroke-width="1.6" />
<line x1="534.3" y1="233" x2="534.3" y2="237.8" stroke="#1a1a1a" stroke-width="1.6" />
<line x1="567.25" y1="233" x2="567.25" y2="237.8" stroke="#1a1a1a" stroke-width="1.6" />
<line x1="600.2" y1="233" x2="600.2" y2="237.8" stroke="#1a1a1a" stroke-width="1.6" />
<line x1="633.15" y1="233" x2="633.15" y2="237.8" stroke="#1a1a1a" stroke-width="1.6" />
<line x1="666.1" y1="233" x2="666.1" y2="237.8" stroke="#1a1a1a" stroke-width="1.6" />
<line x1="418.98" y1="233" x2="418.98" y2="235.6" stroke="#1a1a1a" stroke-width="1.6" />
<line x1="451.93" y1="233" x2="451.93" y2="235.6" stroke="#1a1a1a" stroke-width="1.6" />
<line x1="484.88" y1="233" x2="484.88" y2="235.6" stroke="#1a1a1a" stroke-width="1.6" />
<line x1="517.83" y1="233" x2="517.83" y2="235.6" stroke="#1a1a1a" stroke-width="1.6" />
<line x1="550.77" y1="233" x2="550.77" y2="235.6" stroke="#1a1a1a" stroke-width="1.6" />
<line x1="583.73" y1="233" x2="583.73" y2="235.6" stroke="#1a1a1a" stroke-width="1.6" />
<line x1="616.67" y1="233" x2="616.67" y2="235.6" stroke="#1a1a1a" stroke-width="1.6" />
<line x1="649.62" y1="233" x2="649.62" y2="235.6" stroke="#1a1a1a" stroke-width="1.6" />
<line x1="397.9" y1="233" x2="402.5" y2="233" stroke="#1a1a1a" stroke-width="1.6" />
<line x1="397.9" y1="187.94" x2="402.5" y2="187.94" stroke="#1a1a1a" stroke-width="1.6" />
<line x1="397.9" y1="142.88" x2="402.5" y2="142.88" stroke="#1a1a1a" stroke-width="1.6" />
<line x1="397.9" y1="97.82" x2="402.5" y2="97.82" stroke="#1a1a1a" stroke-width="1.6" />
<line x1="397.9" y1="52.76" x2="402.5" y2="52.76" stroke="#1a1a1a" stroke-width="1.6" />
<line x1="397.9" y1="7.7" x2="402.5" y2="7.7" stroke="#1a1a1a" stroke-width="1.6" />
<line x1="399.9" y1="210.47" x2="402.5" y2="210.47" stroke="#1a1a1a" stroke-width="1.6" />
<line x1="399.9" y1="165.41" x2="402.5" y2="165.41" stroke="#1a1a1a" stroke-width="1.6" />
<line x1="399.9" y1="120.35" x2="402.5" y2="120.35" stroke="#1a1a1a" stroke-width="1.6" />
<line x1="399.9" y1="75.29" x2="402.5" y2="75.29" stroke="#1a1a1a" stroke-width="1.6" />
<line x1="399.9" y1="30.23" x2="402.5" y2="30.23" stroke="#1a1a1a" stroke-width="1.6" />
<text transform="translate(402.5 251.8) scale(1 1.04)" font-size="14.4" font-weight="bold" text-anchor="middle" fill="#111" >0</text>
<text transform="translate(435.45 251.8) scale(1 1.04)" font-size="14.4" font-weight="bold" text-anchor="middle" fill="#111" >1</text>
<text transform="translate(468.4 251.8) scale(1 1.04)" font-size="14.4" font-weight="bold" text-anchor="middle" fill="#111" >2</text>
<text transform="translate(501.35 251.8) scale(1 1.04)" font-size="14.4" font-weight="bold" text-anchor="middle" fill="#111" >3</text>
<text transform="translate(534.3 251.8) scale(1 1.04)" font-size="14.4" font-weight="bold" text-anchor="middle" fill="#111" >4</text>
<text transform="translate(567.25 251.8) scale(1 1.04)" font-size="14.4" font-weight="bold" text-anchor="middle" fill="#111" >5</text>
<text transform="translate(600.2 251.8) scale(1 1.04)" font-size="14.4" font-weight="bold" text-anchor="middle" fill="#111" >6</text>
<text transform="translate(633.15 251.8) scale(1 1.04)" font-size="14.4" font-weight="bold" text-anchor="middle" fill="#111" >7</text>
<text transform="translate(666.1 251.8) scale(1 1.04)" font-size="14.4" font-weight="bold" text-anchor="middle" fill="#111" >8</text>
<text transform="translate(394.8 237.5) scale(1 1.04)" font-size="14.4" font-weight="bold" text-anchor="end" fill="#111" >1.4</text>
<text transform="translate(394.8 192.44) scale(1 1.04)" font-size="14.4" font-weight="bold" text-anchor="end" fill="#111" >1.6</text>
<text transform="translate(394.8 147.38) scale(1 1.04)" font-size="14.4" font-weight="bold" text-anchor="end" fill="#111" >1.8</text>
<text transform="translate(394.8 102.32) scale(1 1.04)" font-size="14.4" font-weight="bold" text-anchor="end" fill="#111" >2.0</text>
<text transform="translate(394.8 57.26) scale(1 1.04)" font-size="14.4" font-weight="bold" text-anchor="end" fill="#111" >2.2</text>
<text transform="translate(394.8 12.2) scale(1 1.04)" font-size="14.4" font-weight="bold" text-anchor="end" fill="#111" >2.4</text>
<text transform="translate(431 273.4) scale(1 1.04)" font-size="19.2" font-weight="bold" text-anchor="start" fill="#111" >Current density <tspan font-weight="normal">(</tspan>A cm<tspan baseline-shift="7" font-size="63%" font-weight="normal" letter-spacing="0.9">&#8722;2</tspan><tspan font-weight="normal">)</tspan></text>
<text transform="translate(365.6 119.7) rotate(-90) scale(1 1.04)" font-size="19.2" font-weight="bold" text-anchor="middle" fill="#111" >Cell voltage <tspan font-weight="normal">(</tspan>V<tspan font-weight="normal">)</tspan></text>
<text transform="translate(408.3 28.8) scale(1 1.04)" font-size="19.5" font-weight="bold" text-anchor="start" fill="#111" ><tspan font-weight="normal">(</tspan>b<tspan font-weight="normal">)</tspan></text>
<circle cx="479" cy="42" r="3.4" fill="#fff" stroke="#f0a5aa" stroke-width="0.9"/>
<path d="M475.15,42 A3.85,3.85 0 0 1 482.85,42 Z" fill="#e8676f"/>
<rect x="476.05" y="57.95" width="5.9" height="5.7" fill="#fff" stroke="#a9c6f2" stroke-width="0.9"/>
<rect x="475.6" y="57.5" width="6.8" height="3.3" fill="#6699e8"/>
<text transform="translate(495.9 46) scale(1 1.04)" font-size="12.5" font-weight="bold" text-anchor="start" fill="#111" >Ir/IrO<tspan baseline-shift="-3.2" font-size="70%">x</tspan>~SO<tspan baseline-shift="-3.2" font-size="70%">3</tspan>H</text>
<text transform="translate(495.9 64.5) scale(1 1.04)" font-size="12.5" font-weight="bold" text-anchor="start" fill="#111" >Ir/IrO<tspan baseline-shift="-3.2" font-size="70%">x</tspan></text>
<text transform="translate(509.2 160.8) scale(1 1.04)" font-size="12.5" font-weight="bold" text-anchor="start" fill="#111" letter-spacing="0.18">1.75 V @ 3.0 A cm<tspan baseline-shift="4.6" font-size="74%" font-weight="normal">&#8722;2</tspan></text>
<g clip-path="url(#cc)">
<path d="M53,407.9 C54.17,407.83 57.17,407.68 60,407.5 C62.83,407.32 66.67,407.15 70,406.8 C73.33,406.45 77,406.03 80,405.4 C83,404.77 85.5,403.4 88,403 C90.5,402.6 93,402.92 95,403 C97,403.08 97.83,403.42 100,403.5 C102.17,403.58 106.17,402.92 108,403.5 C109.83,404.08 107.33,406.27 111,407 C114.67,407.73 124.33,407.92 130,407.9 C135.67,407.88 140,407.22 145,406.9 C150,406.58 154.17,406.07 160,406 C165.83,405.93 172.5,406.25 180,406.5 C187.5,406.75 200,406.92 205,407.5 C210,408.08 205.83,409.42 210,410 C214.17,410.58 224.17,411.08 230,411 C235.83,410.92 239.17,409.58 245,409.5 C250.83,409.42 256.67,410.42 265,410.5 C273.33,410.58 285.83,410.08 295,410 C304.17,409.92 310.83,409.92 320,410 C329.17,410.08 340.83,410.52 350,410.5 C359.17,410.48 365,410.07 375,409.9 C385,409.73 400.83,409.5 410,409.5 C419.17,409.5 424,410.07 430,409.9 C436,409.73 441,408.92 446,408.5 C451,408.08 455.17,407.95 460,407.4 C464.83,406.85 470,405.9 475,405.2 C480,404.5 482.5,403.57 490,403.2 C497.5,402.83 508.33,403.03 520,403 C531.67,402.97 549.17,403 560,403 C570.83,403 579.33,403.08 585,403 C590.67,402.92 592.5,402.58 594,402.5" fill="none" stroke="#e8676f" stroke-width="7.8" stroke-linejoin="round" stroke-linecap="round" />
<path d="M596,411.5 C597.5,411.3 601,410.63 605,410.3 C609,409.97 616.67,410.05 620,409.5 C623.33,408.95 621.67,407.43 625,407 C628.33,406.57 635.83,406.98 640,406.9 C644.17,406.82 645.83,406.8 650,406.5 C654.17,406.2 660.17,405.68 665,405.1 C669.83,404.52 676.67,403.35 679,403" fill="none" stroke="#e8676f" stroke-width="7.8" stroke-linejoin="round" stroke-linecap="round" />
<circle cx="53" cy="407.81" r="3.9" fill="#e8676f"/>
<circle cx="55.5" cy="407.64" r="3.9" fill="#e8676f"/>
<circle cx="57.99" cy="408.15" r="3.9" fill="#e8676f"/>
<circle cx="60.49" cy="406.56" r="3.9" fill="#e8676f"/>
<circle cx="62.98" cy="406.72" r="3.9" fill="#e8676f"/>
<circle cx="65.48" cy="406.53" r="3.9" fill="#e8676f"/>
<circle cx="67.97" cy="407.05" r="3.9" fill="#e8676f"/>
<circle cx="70.46" cy="406.48" r="3.9" fill="#e8676f"/>
<circle cx="72.94" cy="405.8" r="3.9" fill="#e8676f"/>
<circle cx="75.41" cy="405.95" r="3.9" fill="#e8676f"/>
<circle cx="77.89" cy="406.16" r="3.9" fill="#e8676f"/>
<circle cx="80.35" cy="404.52" r="3.9" fill="#e8676f"/>
<circle cx="82.75" cy="404.88" r="3.9" fill="#e8676f"/>
<circle cx="85.14" cy="403.27" r="3.9" fill="#e8676f"/>
<circle cx="87.53" cy="403.73" r="3.9" fill="#e8676f"/>
<circle cx="90.01" cy="402.53" r="3.9" fill="#e8676f"/>
<circle cx="92.51" cy="402.87" r="3.9" fill="#e8676f"/>
<circle cx="95.01" cy="402.66" r="3.9" fill="#e8676f"/>
<circle cx="97.5" cy="403.51" r="3.9" fill="#e8676f"/>
<circle cx="99.99" cy="403.55" r="3.9" fill="#e8676f"/>
<circle cx="102.49" cy="403.35" r="3.9" fill="#e8676f"/>
<circle cx="104.99" cy="403.68" r="3.9" fill="#e8676f"/>
<circle cx="107.49" cy="403.83" r="3.9" fill="#e8676f"/>
<circle cx="109.29" cy="404.46" r="3.9" fill="#e8676f"/>
<circle cx="110.92" cy="406.42" r="3.9" fill="#e8676f"/>
<circle cx="113.38" cy="406.61" r="3.9" fill="#e8676f"/>
<circle cx="115.87" cy="406.99" r="3.9" fill="#e8676f"/>
<circle cx="118.37" cy="406.82" r="3.9" fill="#e8676f"/>
<circle cx="120.87" cy="408.36" r="3.9" fill="#e8676f"/>
<circle cx="123.37" cy="407.6" r="3.9" fill="#e8676f"/>
<circle cx="125.86" cy="407.7" r="3.9" fill="#e8676f"/>
<circle cx="128.36" cy="407.23" r="3.9" fill="#e8676f"/>
<circle cx="130.86" cy="407.13" r="3.9" fill="#e8676f"/>
<circle cx="133.35" cy="407.52" r="3.9" fill="#e8676f"/>
<circle cx="135.85" cy="408.26" r="3.9" fill="#e8676f"/>
<circle cx="138.34" cy="407.67" r="3.9" fill="#e8676f"/>
<circle cx="140.83" cy="407.18" r="3.9" fill="#e8676f"/>
<circle cx="143.33" cy="407.21" r="3.9" fill="#e8676f"/>
<circle cx="145.82" cy="406.77" r="3.9" fill="#e8676f"/>
<circle cx="148.32" cy="407.51" r="3.9" fill="#e8676f"/>
<circle cx="150.81" cy="406.78" r="3.9" fill="#e8676f"/>
<circle cx="153.31" cy="407.19" r="3.9" fill="#e8676f"/>
<circle cx="155.81" cy="406.83" r="3.9" fill="#e8676f"/>
<circle cx="158.3" cy="406.01" r="3.9" fill="#e8676f"/>
<circle cx="160.8" cy="405.6" r="3.9" fill="#e8676f"/>
<circle cx="163.3" cy="406.47" r="3.9" fill="#e8676f"/>
<circle cx="165.8" cy="405.8" r="3.9" fill="#e8676f"/>
<circle cx="168.3" cy="405.43" r="3.9" fill="#e8676f"/>
<circle cx="170.79" cy="405.74" r="3.9" fill="#e8676f"/>
<circle cx="173.29" cy="405.85" r="3.9" fill="#e8676f"/>
<circle cx="175.79" cy="406.64" r="3.9" fill="#e8676f"/>
<circle cx="178.29" cy="406.59" r="3.9" fill="#e8676f"/>
<circle cx="180.79" cy="406.51" r="3.9" fill="#e8676f"/>
<circle cx="183.29" cy="407.46" r="3.9" fill="#e8676f"/>
<circle cx="185.79" cy="406.51" r="3.9" fill="#e8676f"/>
<circle cx="188.29" cy="407.44" r="3.9" fill="#e8676f"/>
<circle cx="190.78" cy="407.11" r="3.9" fill="#e8676f"/>
<circle cx="193.28" cy="407.05" r="3.9" fill="#e8676f"/>
<circle cx="195.78" cy="407.04" r="3.9" fill="#e8676f"/>
<circle cx="198.28" cy="407.97" r="3.9" fill="#e8676f"/>
<circle cx="200.78" cy="407.06" r="3.9" fill="#e8676f"/>
<circle cx="203.27" cy="406.73" r="3.9" fill="#e8676f"/>
<circle cx="205.69" cy="407.69" r="3.9" fill="#e8676f"/>
<circle cx="207.93" cy="409.55" r="3.9" fill="#e8676f"/>
<circle cx="210.18" cy="409.46" r="3.9" fill="#e8676f"/>
<circle cx="212.68" cy="410.26" r="3.9" fill="#e8676f"/>
<circle cx="215.18" cy="411.04" r="3.9" fill="#e8676f"/>
<circle cx="217.67" cy="411.1" r="3.9" fill="#e8676f"/>
<circle cx="220.17" cy="410.94" r="3.9" fill="#e8676f"/>
<circle cx="222.67" cy="411.95" r="3.9" fill="#e8676f"/>
<circle cx="225.16" cy="410.84" r="3.9" fill="#e8676f"/>
<circle cx="227.66" cy="410.85" r="3.9" fill="#e8676f"/>
<circle cx="230.16" cy="410.09" r="3.9" fill="#e8676f"/>
<circle cx="232.64" cy="410.97" r="3.9" fill="#e8676f"/>
<circle cx="235.13" cy="411.02" r="3.9" fill="#e8676f"/>
<circle cx="237.62" cy="410.13" r="3.9" fill="#e8676f"/>
<circle cx="240.11" cy="409.95" r="3.9" fill="#e8676f"/>
<circle cx="242.59" cy="410.08" r="3.9" fill="#e8676f"/>
<circle cx="245.08" cy="409.83" r="3.9" fill="#e8676f"/>
<circle cx="247.58" cy="409.51" r="3.9" fill="#e8676f"/>
<circle cx="250.08" cy="409.51" r="3.9" fill="#e8676f"/>
<circle cx="252.57" cy="409.74" r="3.9" fill="#e8676f"/>
<circle cx="255.07" cy="408.78" r="3.9" fill="#e8676f"/>
<circle cx="257.57" cy="409.94" r="3.9" fill="#e8676f"/>
<circle cx="260.06" cy="410.88" r="3.9" fill="#e8676f"/>
<circle cx="262.56" cy="411.06" r="3.9" fill="#e8676f"/>
<circle cx="265.06" cy="409.46" r="3.9" fill="#e8676f"/>
<circle cx="267.56" cy="410.4" r="3.9" fill="#e8676f"/>
<circle cx="270.06" cy="410.31" r="3.9" fill="#e8676f"/>
<circle cx="272.56" cy="410.03" r="3.9" fill="#e8676f"/>
<circle cx="275.06" cy="410.79" r="3.9" fill="#e8676f"/>
<circle cx="277.56" cy="409.94" r="3.9" fill="#e8676f"/>
<circle cx="280.05" cy="410.29" r="3.9" fill="#e8676f"/>
<circle cx="282.55" cy="410.21" r="3.9" fill="#e8676f"/>
<circle cx="285.05" cy="409.62" r="3.9" fill="#e8676f"/>
<circle cx="287.55" cy="410.15" r="3.9" fill="#e8676f"/>
<circle cx="290.05" cy="409.99" r="3.9" fill="#e8676f"/>
<circle cx="292.55" cy="410.3" r="3.9" fill="#e8676f"/>
<circle cx="295.05" cy="409.76" r="3.9" fill="#e8676f"/>
<circle cx="297.55" cy="410.36" r="3.9" fill="#e8676f"/>
<circle cx="300.05" cy="410.02" r="3.9" fill="#e8676f"/>
<circle cx="302.55" cy="409.98" r="3.9" fill="#e8676f"/>
<circle cx="305.05" cy="410" r="3.9" fill="#e8676f"/>
<circle cx="307.55" cy="409.04" r="3.9" fill="#e8676f"/>
<circle cx="310.05" cy="410.83" r="3.9" fill="#e8676f"/>
<circle cx="312.55" cy="410.78" r="3.9" fill="#e8676f"/>
<circle cx="315.05" cy="409.75" r="3.9" fill="#e8676f"/>
<circle cx="317.55" cy="408.95" r="3.9" fill="#e8676f"/>
<circle cx="320.05" cy="409.88" r="3.9" fill="#e8676f"/>
<circle cx="322.55" cy="410.51" r="3.9" fill="#e8676f"/>
<circle cx="325.05" cy="408.65" r="3.9" fill="#e8676f"/>
<circle cx="327.55" cy="411.27" r="3.9" fill="#e8676f"/>
<circle cx="330.05" cy="409.77" r="3.9" fill="#e8676f"/>
<circle cx="332.55" cy="409.96" r="3.9" fill="#e8676f"/>
<circle cx="335.05" cy="409.89" r="3.9" fill="#e8676f"/>
<circle cx="337.55" cy="410.47" r="3.9" fill="#e8676f"/>
<circle cx="340.05" cy="410.56" r="3.9" fill="#e8676f"/>
<circle cx="342.55" cy="410.44" r="3.9" fill="#e8676f"/>
<circle cx="345.05" cy="410.63" r="3.9" fill="#e8676f"/>
<circle cx="347.55" cy="410.11" r="3.9" fill="#e8676f"/>
<circle cx="350.05" cy="410.85" r="3.9" fill="#e8676f"/>
<circle cx="352.55" cy="410.29" r="3.9" fill="#e8676f"/>
<circle cx="355.05" cy="410.32" r="3.9" fill="#e8676f"/>
<circle cx="357.55" cy="410.91" r="3.9" fill="#e8676f"/>
<circle cx="360.05" cy="410.44" r="3.9" fill="#e8676f"/>
<circle cx="362.54" cy="410.65" r="3.9" fill="#e8676f"/>
<circle cx="365.04" cy="411.14" r="3.9" fill="#e8676f"/>
<circle cx="367.54" cy="409.8" r="3.9" fill="#e8676f"/>
<circle cx="370.04" cy="410.29" r="3.9" fill="#e8676f"/>
<circle cx="372.54" cy="409.31" r="3.9" fill="#e8676f"/>
<circle cx="375.04" cy="410.92" r="3.9" fill="#e8676f"/>
<circle cx="377.54" cy="409.26" r="3.9" fill="#e8676f"/>
<circle cx="380.04" cy="409.08" r="3.9" fill="#e8676f"/>
<circle cx="382.54" cy="409.57" r="3.9" fill="#e8676f"/>
<circle cx="385.04" cy="410.56" r="3.9" fill="#e8676f"/>
<circle cx="387.54" cy="410.01" r="3.9" fill="#e8676f"/>
<circle cx="390.04" cy="408.93" r="3.9" fill="#e8676f"/>
<circle cx="392.54" cy="409.95" r="3.9" fill="#e8676f"/>
<circle cx="395.04" cy="409.42" r="3.9" fill="#e8676f"/>
<circle cx="397.54" cy="409.32" r="3.9" fill="#e8676f"/>
<circle cx="400.04" cy="410.7" r="3.9" fill="#e8676f"/>
<circle cx="402.54" cy="409.93" r="3.9" fill="#e8676f"/>
<circle cx="405.04" cy="409.95" r="3.9" fill="#e8676f"/>
<circle cx="407.54" cy="409.93" r="3.9" fill="#e8676f"/>
<circle cx="410.04" cy="409.27" r="3.9" fill="#e8676f"/>
<circle cx="412.54" cy="409.9" r="3.9" fill="#e8676f"/>
<circle cx="415.04" cy="409.51" r="3.9" fill="#e8676f"/>
<circle cx="417.54" cy="408.29" r="3.9" fill="#e8676f"/>
<circle cx="420.04" cy="409.65" r="3.9" fill="#e8676f"/>
<circle cx="422.54" cy="410.48" r="3.9" fill="#e8676f"/>
<circle cx="425.04" cy="409.6" r="3.9" fill="#e8676f"/>
<circle cx="427.54" cy="410.46" r="3.9" fill="#e8676f"/>
<circle cx="430.03" cy="409.66" r="3.9" fill="#e8676f"/>
<circle cx="432.53" cy="409.87" r="3.9" fill="#e8676f"/>
<circle cx="435.02" cy="409.64" r="3.9" fill="#e8676f"/>
<circle cx="437.51" cy="409.53" r="3.9" fill="#e8676f"/>
<circle cx="440" cy="409.51" r="3.9" fill="#e8676f"/>
<circle cx="442.49" cy="408.48" r="3.9" fill="#e8676f"/>
<circle cx="444.98" cy="408.79" r="3.9" fill="#e8676f"/>
<circle cx="447.47" cy="409.45" r="3.9" fill="#e8676f"/>
<circle cx="449.96" cy="408.74" r="3.9" fill="#e8676f"/>
<circle cx="452.45" cy="407.98" r="3.9" fill="#e8676f"/>
<circle cx="454.95" cy="408.01" r="3.9" fill="#e8676f"/>
<circle cx="457.44" cy="407.85" r="3.9" fill="#e8676f"/>
<circle cx="459.93" cy="407.79" r="3.9" fill="#e8676f"/>
<circle cx="462.41" cy="407.29" r="3.9" fill="#e8676f"/>
<circle cx="464.88" cy="407" r="3.9" fill="#e8676f"/>
<circle cx="467.35" cy="406.52" r="3.9" fill="#e8676f"/>
<circle cx="469.83" cy="405.92" r="3.9" fill="#e8676f"/>
<circle cx="472.3" cy="406.24" r="3.9" fill="#e8676f"/>
<circle cx="474.77" cy="405.87" r="3.9" fill="#e8676f"/>
<circle cx="477.25" cy="404.36" r="3.9" fill="#e8676f"/>
<circle cx="479.73" cy="404.13" r="3.9" fill="#e8676f"/>
<circle cx="482.21" cy="404.51" r="3.9" fill="#e8676f"/>
<circle cx="484.68" cy="403.43" r="3.9" fill="#e8676f"/>
<circle cx="487.16" cy="403.5" r="3.9" fill="#e8676f"/>
<circle cx="489.64" cy="403.15" r="3.9" fill="#e8676f"/>
<circle cx="492.14" cy="403.34" r="3.9" fill="#e8676f"/>
<circle cx="494.64" cy="402.94" r="3.9" fill="#e8676f"/>
<circle cx="497.14" cy="404.44" r="3.9" fill="#e8676f"/>
<circle cx="499.64" cy="403.55" r="3.9" fill="#e8676f"/>
<circle cx="502.14" cy="403.54" r="3.9" fill="#e8676f"/>
<circle cx="504.64" cy="402.42" r="3.9" fill="#e8676f"/>
<circle cx="507.14" cy="402.36" r="3.9" fill="#e8676f"/>
<circle cx="509.64" cy="403.15" r="3.9" fill="#e8676f"/>
<circle cx="512.14" cy="403.44" r="3.9" fill="#e8676f"/>
<circle cx="514.64" cy="403.04" r="3.9" fill="#e8676f"/>
<circle cx="517.14" cy="403.52" r="3.9" fill="#e8676f"/>
<circle cx="519.64" cy="401.83" r="3.9" fill="#e8676f"/>
<circle cx="522.14" cy="403.41" r="3.9" fill="#e8676f"/>
<circle cx="524.64" cy="403.59" r="3.9" fill="#e8676f"/>
<circle cx="527.14" cy="402.17" r="3.9" fill="#e8676f"/>
<circle cx="529.64" cy="403.13" r="3.9" fill="#e8676f"/>
<circle cx="532.14" cy="403.02" r="3.9" fill="#e8676f"/>
<circle cx="534.64" cy="402.73" r="3.9" fill="#e8676f"/>
<circle cx="537.14" cy="401.97" r="3.9" fill="#e8676f"/>
<circle cx="539.64" cy="402.34" r="3.9" fill="#e8676f"/>
<circle cx="542.14" cy="403.11" r="3.9" fill="#e8676f"/>
<circle cx="544.64" cy="403.5" r="3.9" fill="#e8676f"/>
<circle cx="547.14" cy="403" r="3.9" fill="#e8676f"/>
<circle cx="549.64" cy="403.84" r="3.9" fill="#e8676f"/>
<circle cx="552.14" cy="402.59" r="3.9" fill="#e8676f"/>
<circle cx="554.64" cy="403.82" r="3.9" fill="#e8676f"/>
<circle cx="557.14" cy="401.94" r="3.9" fill="#e8676f"/>
<circle cx="559.64" cy="403" r="3.9" fill="#e8676f"/>
<circle cx="562.14" cy="403.24" r="3.9" fill="#e8676f"/>
<circle cx="564.64" cy="403.34" r="3.9" fill="#e8676f"/>
<circle cx="567.14" cy="403.5" r="3.9" fill="#e8676f"/>
<circle cx="569.64" cy="402.51" r="3.9" fill="#e8676f"/>
<circle cx="572.14" cy="401.92" r="3.9" fill="#e8676f"/>
<circle cx="574.64" cy="402.87" r="3.9" fill="#e8676f"/>
<circle cx="577.14" cy="402.29" r="3.9" fill="#e8676f"/>
<circle cx="579.64" cy="403.05" r="3.9" fill="#e8676f"/>
<circle cx="582.14" cy="402.45" r="3.9" fill="#e8676f"/>
<circle cx="584.64" cy="402.87" r="3.9" fill="#e8676f"/>
<circle cx="587.13" cy="402.84" r="3.9" fill="#e8676f"/>
<circle cx="589.63" cy="402.82" r="3.9" fill="#e8676f"/>
<circle cx="592.13" cy="402.25" r="3.9" fill="#e8676f"/>
<circle cx="596" cy="412.13" r="3.9" fill="#e8676f"/>
<circle cx="598.48" cy="410.82" r="3.9" fill="#e8676f"/>
<circle cx="600.96" cy="410.75" r="3.9" fill="#e8676f"/>
<circle cx="603.43" cy="410.76" r="3.9" fill="#e8676f"/>
<circle cx="605.92" cy="410.24" r="3.9" fill="#e8676f"/>
<circle cx="608.42" cy="410.83" r="3.9" fill="#e8676f"/>
<circle cx="610.91" cy="409.91" r="3.9" fill="#e8676f"/>
<circle cx="613.41" cy="409.62" r="3.9" fill="#e8676f"/>
<circle cx="615.9" cy="410.27" r="3.9" fill="#e8676f"/>
<circle cx="618.4" cy="409.85" r="3.9" fill="#e8676f"/>
<circle cx="620.8" cy="408.67" r="3.9" fill="#e8676f"/>
<circle cx="623.04" cy="407.73" r="3.9" fill="#e8676f"/>
<circle cx="625.31" cy="407.11" r="3.9" fill="#e8676f"/>
<circle cx="627.81" cy="407.65" r="3.9" fill="#e8676f"/>
<circle cx="630.31" cy="407.39" r="3.9" fill="#e8676f"/>
<circle cx="632.81" cy="406.98" r="3.9" fill="#e8676f"/>
<circle cx="635.31" cy="405.71" r="3.9" fill="#e8676f"/>
<circle cx="637.81" cy="407.22" r="3.9" fill="#e8676f"/>
<circle cx="640.31" cy="406.25" r="3.9" fill="#e8676f"/>
<circle cx="642.81" cy="405.97" r="3.9" fill="#e8676f"/>
<circle cx="645.3" cy="406.33" r="3.9" fill="#e8676f"/>
<circle cx="647.8" cy="406.64" r="3.9" fill="#e8676f"/>
<circle cx="650.3" cy="406.5" r="3.9" fill="#e8676f"/>
<circle cx="652.79" cy="407.51" r="3.9" fill="#e8676f"/>
<circle cx="655.28" cy="405.89" r="3.9" fill="#e8676f"/>
<circle cx="657.77" cy="405.36" r="3.9" fill="#e8676f"/>
<circle cx="660.26" cy="406.12" r="3.9" fill="#e8676f"/>
<circle cx="662.75" cy="405.39" r="3.9" fill="#e8676f"/>
<circle cx="665.23" cy="404.83" r="3.9" fill="#e8676f"/>
<circle cx="667.71" cy="404.23" r="3.9" fill="#e8676f"/>
<circle cx="670.18" cy="404.29" r="3.9" fill="#e8676f"/>
<circle cx="672.65" cy="404.69" r="3.9" fill="#e8676f"/>
<circle cx="675.12" cy="403.9" r="3.9" fill="#e8676f"/>
<circle cx="677.59" cy="403.05" r="3.9" fill="#e8676f"/>
<circle cx="61.5" cy="411.2" r="3.9" fill="#e8676f"/>
<circle cx="90" cy="408" r="3.9" fill="#e8676f"/>
<circle cx="108" cy="408" r="3.9" fill="#e8676f"/>
<circle cx="138" cy="410.2" r="3.9" fill="#e8676f"/>
<circle cx="155" cy="410.4" r="3.9" fill="#e8676f"/>
<circle cx="170" cy="409.5" r="3.9" fill="#e8676f"/>
<circle cx="195.8" cy="410.4" r="3.9" fill="#e8676f"/>
<circle cx="230" cy="411.2" r="3.9" fill="#e8676f"/>
<circle cx="295" cy="411.8" r="3.9" fill="#e8676f"/>
<circle cx="410" cy="413.3" r="3.9" fill="#e8676f"/>
<circle cx="446" cy="413.3" r="3.9" fill="#e8676f"/>
<circle cx="500" cy="413.5" r="3.9" fill="#e8676f"/>
<circle cx="560" cy="410.9" r="3.9" fill="#e8676f"/>
<circle cx="573" cy="406.5" r="3.9" fill="#e8676f"/>
<circle cx="596" cy="413.7" r="3.9" fill="#e8676f"/>
<circle cx="610" cy="411.8" r="3.9" fill="#e8676f"/>
<circle cx="90" cy="401.2" r="3.9" fill="#e8676f"/>
<circle cx="100" cy="403.4" r="3.9" fill="#e8676f"/>
<circle cx="108" cy="402.4" r="3.9" fill="#e8676f"/>
<circle cx="446" cy="406.2" r="3.9" fill="#e8676f"/>
<circle cx="594.2" cy="400.9" r="3.9" fill="#e8676f"/>
<path d="M52,385.3 C53.33,385.17 55.33,384.85 60,384.5 C64.67,384.15 75.33,383.65 80,383.2 C84.67,382.75 85.28,382.07 88,381.8 C90.72,381.53 94.92,381.63 96.3,381.6" fill="none" stroke="#6699e8" stroke-width="7.6" stroke-linejoin="round" stroke-linecap="butt" />
<path d="M97.6,387.3 C99.33,387 103.6,386 108,385.5 C112.4,385 120.33,384.63 124,384.3 C127.67,383.97 125.67,384.02 130,383.5 C134.33,382.98 144.17,381.7 150,381.2 C155.83,380.7 159.17,380.58 165,380.5 C170.83,380.42 179.17,380.87 185,380.7 C190.83,380.53 195,379.77 200,379.5 C205,379.23 210.83,379.43 215,379.1 C219.17,378.77 220,377.88 225,377.5 C230,377.12 237.5,376.85 245,376.8 C252.5,376.75 260.83,377.07 270,377.2 C279.17,377.33 290.83,377.67 300,377.6 C309.17,377.53 316.58,377.03 325,376.8 C333.42,376.57 346.25,376.3 350.5,376.2" fill="none" stroke="#6699e8" stroke-width="7.6" stroke-linejoin="round" stroke-linecap="butt" />
<rect x="48.6" y="381.87" width="6.8" height="7.4" fill="#6699e8"/>
<rect x="50.59" y="381.46" width="6.8" height="7.4" fill="#6699e8"/>
<rect x="52.58" y="380.8" width="6.8" height="7.4" fill="#6699e8"/>
<rect x="54.57" y="381.22" width="6.8" height="7.4" fill="#6699e8"/>
<rect x="56.56" y="380.98" width="6.8" height="7.4" fill="#6699e8"/>
<rect x="58.56" y="381.18" width="6.8" height="7.4" fill="#6699e8"/>
<rect x="60.55" y="380.52" width="6.8" height="7.4" fill="#6699e8"/>
<rect x="62.55" y="380.06" width="6.8" height="7.4" fill="#6699e8"/>
<rect x="64.54" y="380.5" width="6.8" height="7.4" fill="#6699e8"/>
<rect x="66.54" y="380.92" width="6.8" height="7.4" fill="#6699e8"/>
<rect x="68.53" y="379.81" width="6.8" height="7.4" fill="#6699e8"/>
<rect x="70.53" y="380.41" width="6.8" height="7.4" fill="#6699e8"/>
<rect x="72.53" y="379.79" width="6.8" height="7.4" fill="#6699e8"/>
<rect x="74.52" y="379.85" width="6.8" height="7.4" fill="#6699e8"/>
<rect x="76.52" y="379.52" width="6.8" height="7.4" fill="#6699e8"/>
<rect x="78.49" y="378.92" width="6.8" height="7.4" fill="#6699e8"/>
<rect x="80.46" y="379.16" width="6.8" height="7.4" fill="#6699e8"/>
<rect x="82.43" y="378.38" width="6.8" height="7.4" fill="#6699e8"/>
<rect x="84.4" y="378.22" width="6.8" height="7.4" fill="#6699e8"/>
<rect x="86.4" y="378.25" width="6.8" height="7.4" fill="#6699e8"/>
<rect x="88.4" y="377.62" width="6.8" height="7.4" fill="#6699e8"/>
<rect x="90.39" y="378.18" width="6.8" height="7.4" fill="#6699e8"/>
<rect x="92.39" y="378.07" width="6.8" height="7.4" fill="#6699e8"/>
<rect x="94.2" y="383.55" width="6.8" height="7.4" fill="#6699e8"/>
<rect x="96.17" y="383.1" width="6.8" height="7.4" fill="#6699e8"/>
<rect x="98.14" y="383.05" width="6.8" height="7.4" fill="#6699e8"/>
<rect x="100.11" y="382.74" width="6.8" height="7.4" fill="#6699e8"/>
<rect x="102.08" y="382.21" width="6.8" height="7.4" fill="#6699e8"/>
<rect x="104.05" y="381.99" width="6.8" height="7.4" fill="#6699e8"/>
<rect x="106.04" y="381.73" width="6.8" height="7.4" fill="#6699e8"/>
<rect x="108.04" y="381.04" width="6.8" height="7.4" fill="#6699e8"/>
<rect x="110.03" y="381.79" width="6.8" height="7.4" fill="#6699e8"/>
<rect x="112.02" y="381.61" width="6.8" height="7.4" fill="#6699e8"/>
<rect x="114.02" y="380.77" width="6.8" height="7.4" fill="#6699e8"/>
<rect x="116.01" y="381.64" width="6.8" height="7.4" fill="#6699e8"/>
<rect x="118.01" y="380.78" width="6.8" height="7.4" fill="#6699e8"/>
<rect x="120" y="380.55" width="6.8" height="7.4" fill="#6699e8"/>
<rect x="121.99" y="380.58" width="6.8" height="7.4" fill="#6699e8"/>
<rect x="123.97" y="380.61" width="6.8" height="7.4" fill="#6699e8"/>
<rect x="125.95" y="379.69" width="6.8" height="7.4" fill="#6699e8"/>
<rect x="127.94" y="380.08" width="6.8" height="7.4" fill="#6699e8"/>
<rect x="129.93" y="379.51" width="6.8" height="7.4" fill="#6699e8"/>
<rect x="131.91" y="378.98" width="6.8" height="7.4" fill="#6699e8"/>
<rect x="133.9" y="379.16" width="6.8" height="7.4" fill="#6699e8"/>
<rect x="135.89" y="378.64" width="6.8" height="7.4" fill="#6699e8"/>
<rect x="137.87" y="378.66" width="6.8" height="7.4" fill="#6699e8"/>
<rect x="139.86" y="378.52" width="6.8" height="7.4" fill="#6699e8"/>
<rect x="141.85" y="378.05" width="6.8" height="7.4" fill="#6699e8"/>
<rect x="143.83" y="377.37" width="6.8" height="7.4" fill="#6699e8"/>
<rect x="145.82" y="378.19" width="6.8" height="7.4" fill="#6699e8"/>
<rect x="147.81" y="378" width="6.8" height="7.4" fill="#6699e8"/>
<rect x="149.81" y="377.89" width="6.8" height="7.4" fill="#6699e8"/>
<rect x="151.81" y="377.33" width="6.8" height="7.4" fill="#6699e8"/>
<rect x="153.81" y="377.44" width="6.8" height="7.4" fill="#6699e8"/>
<rect x="155.81" y="377.31" width="6.8" height="7.4" fill="#6699e8"/>
<rect x="157.8" y="376.48" width="6.8" height="7.4" fill="#6699e8"/>
<rect x="159.8" y="376.8" width="6.8" height="7.4" fill="#6699e8"/>
<rect x="161.8" y="376.84" width="6.8" height="7.4" fill="#6699e8"/>
<rect x="163.8" y="376.54" width="6.8" height="7.4" fill="#6699e8"/>
<rect x="165.8" y="376.89" width="6.8" height="7.4" fill="#6699e8"/>
<rect x="167.8" y="377.03" width="6.8" height="7.4" fill="#6699e8"/>
<rect x="169.8" y="376.79" width="6.8" height="7.4" fill="#6699e8"/>
<rect x="171.8" y="376.48" width="6.8" height="7.4" fill="#6699e8"/>
<rect x="173.8" y="377.4" width="6.8" height="7.4" fill="#6699e8"/>
<rect x="175.8" y="377.24" width="6.8" height="7.4" fill="#6699e8"/>
<rect x="177.8" y="377.02" width="6.8" height="7.4" fill="#6699e8"/>
<rect x="179.8" y="377.18" width="6.8" height="7.4" fill="#6699e8"/>
<rect x="181.8" y="376.51" width="6.8" height="7.4" fill="#6699e8"/>
<rect x="183.79" y="376.9" width="6.8" height="7.4" fill="#6699e8"/>
<rect x="185.78" y="376.69" width="6.8" height="7.4" fill="#6699e8"/>
<rect x="187.78" y="377.13" width="6.8" height="7.4" fill="#6699e8"/>
<rect x="189.77" y="376.6" width="6.8" height="7.4" fill="#6699e8"/>
<rect x="191.77" y="376.16" width="6.8" height="7.4" fill="#6699e8"/>
<rect x="193.76" y="376.52" width="6.8" height="7.4" fill="#6699e8"/>
<rect x="195.75" y="376.09" width="6.8" height="7.4" fill="#6699e8"/>
<rect x="197.75" y="375.61" width="6.8" height="7.4" fill="#6699e8"/>
<rect x="199.75" y="375.61" width="6.8" height="7.4" fill="#6699e8"/>
<rect x="201.75" y="376.41" width="6.8" height="7.4" fill="#6699e8"/>
<rect x="203.75" y="375.44" width="6.8" height="7.4" fill="#6699e8"/>
<rect x="205.75" y="375.4" width="6.8" height="7.4" fill="#6699e8"/>
<rect x="207.75" y="375.45" width="6.8" height="7.4" fill="#6699e8"/>
<rect x="209.75" y="375.19" width="6.8" height="7.4" fill="#6699e8"/>
<rect x="211.74" y="375.37" width="6.8" height="7.4" fill="#6699e8"/>
<rect x="213.72" y="375.09" width="6.8" height="7.4" fill="#6699e8"/>
<rect x="215.69" y="374.77" width="6.8" height="7.4" fill="#6699e8"/>
<rect x="217.67" y="373.76" width="6.8" height="7.4" fill="#6699e8"/>
<rect x="219.64" y="373.63" width="6.8" height="7.4" fill="#6699e8"/>
<rect x="221.62" y="373.26" width="6.8" height="7.4" fill="#6699e8"/>
<rect x="223.62" y="373.95" width="6.8" height="7.4" fill="#6699e8"/>
<rect x="225.62" y="373.69" width="6.8" height="7.4" fill="#6699e8"/>
<rect x="227.61" y="372.85" width="6.8" height="7.4" fill="#6699e8"/>
<rect x="229.61" y="373.64" width="6.8" height="7.4" fill="#6699e8"/>
<rect x="231.61" y="373.73" width="6.8" height="7.4" fill="#6699e8"/>
<rect x="233.61" y="373.29" width="6.8" height="7.4" fill="#6699e8"/>
<rect x="235.61" y="373.31" width="6.8" height="7.4" fill="#6699e8"/>
<rect x="237.61" y="373.56" width="6.8" height="7.4" fill="#6699e8"/>
<rect x="239.61" y="372.48" width="6.8" height="7.4" fill="#6699e8"/>
<rect x="241.61" y="373.13" width="6.8" height="7.4" fill="#6699e8"/>
<rect x="243.61" y="373.35" width="6.8" height="7.4" fill="#6699e8"/>
<rect x="245.6" y="373.66" width="6.8" height="7.4" fill="#6699e8"/>
<rect x="247.6" y="373.16" width="6.8" height="7.4" fill="#6699e8"/>
<rect x="249.6" y="372.67" width="6.8" height="7.4" fill="#6699e8"/>
<rect x="251.6" y="373.32" width="6.8" height="7.4" fill="#6699e8"/>
<rect x="253.6" y="372.89" width="6.8" height="7.4" fill="#6699e8"/>
<rect x="255.6" y="373.2" width="6.8" height="7.4" fill="#6699e8"/>
<rect x="257.6" y="373.59" width="6.8" height="7.4" fill="#6699e8"/>
<rect x="259.6" y="373.05" width="6.8" height="7.4" fill="#6699e8"/>
<rect x="261.6" y="373.82" width="6.8" height="7.4" fill="#6699e8"/>
<rect x="263.6" y="373.63" width="6.8" height="7.4" fill="#6699e8"/>
<rect x="265.6" y="373.58" width="6.8" height="7.4" fill="#6699e8"/>
<rect x="267.6" y="373.52" width="6.8" height="7.4" fill="#6699e8"/>
<rect x="269.6" y="373.31" width="6.8" height="7.4" fill="#6699e8"/>
<rect x="271.6" y="373.64" width="6.8" height="7.4" fill="#6699e8"/>
<rect x="273.6" y="373.62" width="6.8" height="7.4" fill="#6699e8"/>
<rect x="275.6" y="373.37" width="6.8" height="7.4" fill="#6699e8"/>
<rect x="277.6" y="373.56" width="6.8" height="7.4" fill="#6699e8"/>
<rect x="279.6" y="374.29" width="6.8" height="7.4" fill="#6699e8"/>
<rect x="281.6" y="373.62" width="6.8" height="7.4" fill="#6699e8"/>
<rect x="283.6" y="373.96" width="6.8" height="7.4" fill="#6699e8"/>
<rect x="285.6" y="373.74" width="6.8" height="7.4" fill="#6699e8"/>
<rect x="287.6" y="373.9" width="6.8" height="7.4" fill="#6699e8"/>
<rect x="289.6" y="373.87" width="6.8" height="7.4" fill="#6699e8"/>
<rect x="291.6" y="373.36" width="6.8" height="7.4" fill="#6699e8"/>
<rect x="293.6" y="373.86" width="6.8" height="7.4" fill="#6699e8"/>
<rect x="295.6" y="373.68" width="6.8" height="7.4" fill="#6699e8"/>
<rect x="297.6" y="373.94" width="6.8" height="7.4" fill="#6699e8"/>
<rect x="299.6" y="373.44" width="6.8" height="7.4" fill="#6699e8"/>
<rect x="301.6" y="373.95" width="6.8" height="7.4" fill="#6699e8"/>
<rect x="303.6" y="373.45" width="6.8" height="7.4" fill="#6699e8"/>
<rect x="305.6" y="373.17" width="6.8" height="7.4" fill="#6699e8"/>
<rect x="307.59" y="373.8" width="6.8" height="7.4" fill="#6699e8"/>
<rect x="309.59" y="373.12" width="6.8" height="7.4" fill="#6699e8"/>
<rect x="311.59" y="373.84" width="6.8" height="7.4" fill="#6699e8"/>
<rect x="313.59" y="373.75" width="6.8" height="7.4" fill="#6699e8"/>
<rect x="315.59" y="373.19" width="6.8" height="7.4" fill="#6699e8"/>
<rect x="317.59" y="373.6" width="6.8" height="7.4" fill="#6699e8"/>
<rect x="319.59" y="372.82" width="6.8" height="7.4" fill="#6699e8"/>
<rect x="321.59" y="373.45" width="6.8" height="7.4" fill="#6699e8"/>
<rect x="323.59" y="373.12" width="6.8" height="7.4" fill="#6699e8"/>
<rect x="325.59" y="373.22" width="6.8" height="7.4" fill="#6699e8"/>
<rect x="327.59" y="372.96" width="6.8" height="7.4" fill="#6699e8"/>
<rect x="329.58" y="373.09" width="6.8" height="7.4" fill="#6699e8"/>
<rect x="331.58" y="373.16" width="6.8" height="7.4" fill="#6699e8"/>
<rect x="333.58" y="372.56" width="6.8" height="7.4" fill="#6699e8"/>
<rect x="335.58" y="372.63" width="6.8" height="7.4" fill="#6699e8"/>
<rect x="337.58" y="372.99" width="6.8" height="7.4" fill="#6699e8"/>
<rect x="339.58" y="373.03" width="6.8" height="7.4" fill="#6699e8"/>
<rect x="341.58" y="372.61" width="6.8" height="7.4" fill="#6699e8"/>
<rect x="343.58" y="372.65" width="6.8" height="7.4" fill="#6699e8"/>
<rect x="345.58" y="373.08" width="6.8" height="7.4" fill="#6699e8"/>
<rect x="51.6" y="383.3" width="6.8" height="7.2" fill="#6699e8"/>
<rect x="80.6" y="382.6" width="6.8" height="7.2" fill="#6699e8"/>
<rect x="90.6" y="386.2" width="6.8" height="7.2" fill="#6699e8"/>
<rect x="117.6" y="384.4" width="6.8" height="7.2" fill="#6699e8"/>
<rect x="133.6" y="383.7" width="6.8" height="7.2" fill="#6699e8"/>
<rect x="162.6" y="380.6" width="6.8" height="7.2" fill="#6699e8"/>
<rect x="180.1" y="380.6" width="6.8" height="7.2" fill="#6699e8"/>
<rect x="190.1" y="381.5" width="6.8" height="7.2" fill="#6699e8"/>
<rect x="206.6" y="379.7" width="6.8" height="7.2" fill="#6699e8"/>
<rect x="220.6" y="379.7" width="6.8" height="7.2" fill="#6699e8"/>
<rect x="234.1" y="377.1" width="6.8" height="7.2" fill="#6699e8"/>
<rect x="248.6" y="377.2" width="6.8" height="7.2" fill="#6699e8"/>
<rect x="264.6" y="379.3" width="6.8" height="7.2" fill="#6699e8"/>
<rect x="289.1" y="379.3" width="6.8" height="7.2" fill="#6699e8"/>
<rect x="301.6" y="379.3" width="6.8" height="7.2" fill="#6699e8"/>
<rect x="317.6" y="380.2" width="6.8" height="7.2" fill="#6699e8"/>
<rect x="329.6" y="378.5" width="6.8" height="7.2" fill="#6699e8"/>
</g>
<rect x="52" y="287" width="628.3" height="225.8" fill="none" stroke="#1a1a1a" stroke-width="1.6"/>
<line x1="54.3" y1="512.8" x2="54.3" y2="517.6" stroke="#1a1a1a" stroke-width="1.6" />
<line x1="112.92" y1="512.8" x2="112.92" y2="517.6" stroke="#1a1a1a" stroke-width="1.6" />
<line x1="171.54" y1="512.8" x2="171.54" y2="517.6" stroke="#1a1a1a" stroke-width="1.6" />
<line x1="230.16" y1="512.8" x2="230.16" y2="517.6" stroke="#1a1a1a" stroke-width="1.6" />
<line x1="288.78" y1="512.8" x2="288.78" y2="517.6" stroke="#1a1a1a" stroke-width="1.6" />
<line x1="347.4" y1="512.8" x2="347.4" y2="517.6" stroke="#1a1a1a" stroke-width="1.6" />
<line x1="406.02" y1="512.8" x2="406.02" y2="517.6" stroke="#1a1a1a" stroke-width="1.6" />
<line x1="464.64" y1="512.8" x2="464.64" y2="517.6" stroke="#1a1a1a" stroke-width="1.6" />
<line x1="523.26" y1="512.8" x2="523.26" y2="517.6" stroke="#1a1a1a" stroke-width="1.6" />
<line x1="581.88" y1="512.8" x2="581.88" y2="517.6" stroke="#1a1a1a" stroke-width="1.6" />
<line x1="640.5" y1="512.8" x2="640.5" y2="517.6" stroke="#1a1a1a" stroke-width="1.6" />
<line x1="83.61" y1="512.8" x2="83.61" y2="515.4" stroke="#1a1a1a" stroke-width="1.6" />
<line x1="142.23" y1="512.8" x2="142.23" y2="515.4" stroke="#1a1a1a" stroke-width="1.6" />
<line x1="200.85" y1="512.8" x2="200.85" y2="515.4" stroke="#1a1a1a" stroke-width="1.6" />
<line x1="259.47" y1="512.8" x2="259.47" y2="515.4" stroke="#1a1a1a" stroke-width="1.6" />
<line x1="318.09" y1="512.8" x2="318.09" y2="515.4" stroke="#1a1a1a" stroke-width="1.6" />
<line x1="376.71" y1="512.8" x2="376.71" y2="515.4" stroke="#1a1a1a" stroke-width="1.6" />
<line x1="435.33" y1="512.8" x2="435.33" y2="515.4" stroke="#1a1a1a" stroke-width="1.6" />
<line x1="493.95" y1="512.8" x2="493.95" y2="515.4" stroke="#1a1a1a" stroke-width="1.6" />
<line x1="552.57" y1="512.8" x2="552.57" y2="515.4" stroke="#1a1a1a" stroke-width="1.6" />
<line x1="611.19" y1="512.8" x2="611.19" y2="515.4" stroke="#1a1a1a" stroke-width="1.6" />
<line x1="669.81" y1="512.8" x2="669.81" y2="515.4" stroke="#1a1a1a" stroke-width="1.6" />
<line x1="47.4" y1="512.8" x2="52" y2="512.8" stroke="#1a1a1a" stroke-width="1.6" />
<line x1="47.4" y1="456.35" x2="52" y2="456.35" stroke="#1a1a1a" stroke-width="1.6" />
<line x1="47.4" y1="399.9" x2="52" y2="399.9" stroke="#1a1a1a" stroke-width="1.6" />
<line x1="47.4" y1="343.45" x2="52" y2="343.45" stroke="#1a1a1a" stroke-width="1.6" />
<line x1="47.4" y1="287" x2="52" y2="287" stroke="#1a1a1a" stroke-width="1.6" />
<line x1="49.4" y1="484.57" x2="52" y2="484.57" stroke="#1a1a1a" stroke-width="1.6" />
<line x1="49.4" y1="428.12" x2="52" y2="428.12" stroke="#1a1a1a" stroke-width="1.6" />
<line x1="49.4" y1="371.67" x2="52" y2="371.67" stroke="#1a1a1a" stroke-width="1.6" />
<line x1="49.4" y1="315.22" x2="52" y2="315.22" stroke="#1a1a1a" stroke-width="1.6" />
<text transform="translate(54.3 532.5) scale(1 1.04)" font-size="14.4" font-weight="bold" text-anchor="middle" fill="#111" >0</text>
<text transform="translate(112.92 532.5) scale(1 1.04)" font-size="14.4" font-weight="bold" text-anchor="middle" fill="#111" >100</text>
<text transform="translate(171.54 532.5) scale(1 1.04)" font-size="14.4" font-weight="bold" text-anchor="middle" fill="#111" >200</text>
<text transform="translate(230.16 532.5) scale(1 1.04)" font-size="14.4" font-weight="bold" text-anchor="middle" fill="#111" >300</text>
<text transform="translate(288.78 532.5) scale(1 1.04)" font-size="14.4" font-weight="bold" text-anchor="middle" fill="#111" >400</text>
<text transform="translate(347.4 532.5) scale(1 1.04)" font-size="14.4" font-weight="bold" text-anchor="middle" fill="#111" >500</text>
<text transform="translate(406.02 532.5) scale(1 1.04)" font-size="14.4" font-weight="bold" text-anchor="middle" fill="#111" >600</text>
<text transform="translate(464.64 532.5) scale(1 1.04)" font-size="14.4" font-weight="bold" text-anchor="middle" fill="#111" >700</text>
<text transform="translate(523.26 532.5) scale(1 1.04)" font-size="14.4" font-weight="bold" text-anchor="middle" fill="#111" >800</text>
<text transform="translate(581.88 532.5) scale(1 1.04)" font-size="14.4" font-weight="bold" text-anchor="middle" fill="#111" >900</text>
<text transform="translate(640.5 532.5) scale(1 1.04)" font-size="14.4" font-weight="bold" text-anchor="middle" fill="#111" >1000</text>
<text transform="translate(44 517.3) scale(1 1.04)" font-size="14.4" font-weight="bold" text-anchor="end" fill="#111" >1.2</text>
<text transform="translate(44 460.85) scale(1 1.04)" font-size="14.4" font-weight="bold" text-anchor="end" fill="#111" >1.4</text>
<text transform="translate(44 404.4) scale(1 1.04)" font-size="14.4" font-weight="bold" text-anchor="end" fill="#111" >1.6</text>
<text transform="translate(44 347.95) scale(1 1.04)" font-size="14.4" font-weight="bold" text-anchor="end" fill="#111" >1.8</text>
<text transform="translate(44 291.5) scale(1 1.04)" font-size="14.4" font-weight="bold" text-anchor="end" fill="#111" >2.0</text>
<text transform="translate(329.6 552.7) scale(1 1.04)" font-size="19.2" font-weight="bold" text-anchor="start" fill="#111" >Time <tspan font-weight="normal">(</tspan>h<tspan font-weight="normal">)</tspan></text>
<text transform="translate(14.5 399.7) rotate(-90) scale(1 1.04)" font-size="19.2" font-weight="bold" text-anchor="middle" fill="#111" >Cell voltage <tspan font-weight="normal">(</tspan>V<tspan font-weight="normal">)</tspan></text>
<text transform="translate(57.1 307.5) scale(1 1.04)" font-size="19.5" font-weight="bold" text-anchor="start" fill="#111" ><tspan font-weight="normal">(</tspan>c<tspan font-weight="normal">)</tspan></text>
<text transform="translate(114.5 345.2) scale(1 1.04)" font-size="12.5" font-weight="bold" text-anchor="start" fill="#111" letter-spacing="0.25">@ 1.0 A cm<tspan baseline-shift="4.6" font-size="74%" font-weight="normal">&#8722;2</tspan>, 80 &#176;C</text>
<circle cx="553.1" cy="331.3" r="3.7" fill="#e8676f"/>
<rect x="549.8" y="351.2" width="6.8" height="6.8" fill="#6699e8"/>
<text transform="translate(571.9 336) scale(1 1.04)" font-size="12.5" font-weight="bold" text-anchor="start" fill="#111" >Ir/IrO<tspan baseline-shift="-3.2" font-size="70%">x</tspan>~SO<tspan baseline-shift="-3.2" font-size="70%">3</tspan>H</text>
<text transform="translate(571.9 359.6) scale(1 1.04)" font-size="12.5" font-weight="bold" text-anchor="start" fill="#111" >Ir/IrO<tspan baseline-shift="-3.2" font-size="70%">x</tspan></text>
<rect x="178.6" y="615.8" width="43.7" height="168.2" fill="none" stroke="#86e292" stroke-width="1.6" stroke-dasharray="1.8,1.8"/>
<path d="M48.2,611.8 C50.48,610.98 57.85,608.35 61.9,606.9 C65.95,605.45 69.5,603.98 72.5,603.1 C75.5,602.22 77.43,601.6 79.9,601.6 C82.37,601.6 85.18,601.85 87.3,603.1 C89.42,604.35 91,606.7 92.6,609.1 C94.2,611.5 95.48,615.92 96.9,617.5 C98.32,619.08 99.7,617.88 101.1,618.6 C102.5,619.32 103.88,619.15 105.3,621.8 C106.72,624.45 108.08,630.55 109.6,634.5 C111.12,638.45 112.82,645.33 114.4,645.5 C115.98,645.67 117.27,640.17 119.1,635.5 C120.93,630.83 123.28,622.08 125.4,617.5 C127.52,612.92 129.85,609.93 131.8,608 C133.75,606.07 135.33,605.55 137.1,605.9 C138.87,606.25 140.82,606.75 142.4,610.1 C143.98,613.45 145.2,618.77 146.6,626 C148,633.23 149.57,646.27 150.8,653.5 C152.03,660.73 152.93,669.05 154,669.4 C155.07,669.75 155.97,661.78 157.2,655.6 C158.43,649.42 159.82,637.3 161.4,632.3 C162.98,627.3 164.93,625.6 166.7,625.6 C168.47,625.6 170.05,628.35 172,632.3 C173.95,636.25 176.38,644.28 178.4,649.3 C180.42,654.32 182.6,657.95 184.1,662.4 C185.6,666.85 186.28,672.15 187.4,676 C188.52,679.85 189.67,685.88 190.8,685.5 C191.93,685.12 192.87,678.68 194.2,673.7 C195.53,668.72 197.1,660.12 198.8,655.6 C200.5,651.08 202.33,648.78 204.4,646.6 C206.47,644.42 209.12,642.88 211.2,642.5 C213.28,642.12 215.38,644.93 216.9,644.3 C218.42,643.67 218.98,642.1 220.3,638.7 C221.62,635.3 222.92,627.87 224.8,623.9 C226.68,619.93 229.42,617.92 231.6,614.9 C233.78,611.88 236.2,605.42 237.9,605.8 C239.6,606.18 240.58,612.75 241.8,617.2 C243.02,621.65 244.08,631 245.2,632.5 C246.32,634 247.45,628.45 248.5,626.2 C249.55,623.95 250.47,619.75 251.5,619 C252.53,618.25 253.5,622 254.7,621.7 C255.9,621.4 256.9,619.28 258.7,617.2 C260.5,615.12 263.23,610.63 265.5,609.2 C267.77,607.77 270.42,608.4 272.3,608.6 C274.18,608.8 275.28,610.18 276.8,610.4 C278.32,610.62 279.88,609.33 281.4,609.9 C282.92,610.47 284.02,611.53 285.9,613.8 C287.78,616.07 290.43,621.62 292.7,623.5 C294.97,625.38 297.23,624.65 299.5,625.1 C301.77,625.55 304.23,625.57 306.3,626.2 C308.37,626.83 310.22,629.28 311.9,628.9 C313.58,628.52 314.7,626.98 316.4,623.9 C318.1,620.82 319.92,614.88 322.1,610.4 C324.28,605.92 328.27,599.23 329.5,597" fill="none" stroke="#e8676f" stroke-width="1.5" stroke-linejoin="round" stroke-linecap="round" />
<path d="M48.2,698.4 C50.48,697.63 57.5,695.38 61.9,693.8 C66.3,692.22 70.88,689.9 74.6,688.9 C78.32,687.9 81.72,687.7 84.2,687.8 C86.68,687.9 87.92,688.15 89.5,689.5 C91.08,690.85 92.12,693.32 93.7,695.9 C95.28,698.48 97.42,703.6 99,705 C100.58,706.4 101.8,703.88 103.2,704.3 C104.6,704.72 105.82,705.2 107.4,707.5 C108.98,709.8 111.1,715.7 112.7,718.1 C114.3,720.5 115.58,722.43 117,721.9 C118.42,721.37 119.62,718.35 121.2,714.9 C122.78,711.45 124.57,704.97 126.5,701.2 C128.43,697.43 131.03,693.9 132.8,692.3 C134.57,690.7 135.5,691.18 137.1,691.6 C138.7,692.02 140.82,691.8 142.4,694.8 C143.98,697.8 145.2,702.18 146.6,709.6 C148,717.02 149.57,731.72 150.8,739.3 C152.03,746.88 152.93,754.4 154,755.1 C155.07,755.8 155.97,748.97 157.2,743.5 C158.43,738.03 159.82,727.07 161.4,722.3 C162.98,717.53 164.93,714.9 166.7,714.9 C168.47,714.9 170.23,718.42 172,722.3 C173.77,726.18 175.28,733.55 177.3,738.2 C179.32,742.85 182.42,745.95 184.1,750.2 C185.78,754.45 186.28,759.93 187.4,763.7 C188.52,767.47 189.67,773.17 190.8,772.8 C191.93,772.43 192.87,766.03 194.2,761.5 C195.53,756.97 197.1,749.57 198.8,745.6 C200.5,741.63 202.33,739.58 204.4,737.7 C206.47,735.82 209.12,734.3 211.2,734.3 C213.28,734.3 215.38,737.88 216.9,737.7 C218.42,737.52 218.98,736.4 220.3,733.2 C221.62,730 222.92,722.28 224.8,718.5 C226.68,714.72 229.42,713.03 231.6,710.5 C233.78,707.97 236.2,702.73 237.9,703.3 C239.6,703.87 240.52,709.87 241.8,713.9 C243.08,717.93 244.48,726.55 245.6,727.5 C246.72,728.45 247.52,721.78 248.5,719.6 C249.48,717.42 250.47,714.88 251.5,714.4 C252.53,713.92 253.5,716.97 254.7,716.7 C255.9,716.43 256.9,714.77 258.7,712.8 C260.5,710.83 263.23,706.4 265.5,704.9 C267.77,703.4 270.42,704.18 272.3,703.8 C274.18,703.42 275.1,703.47 276.8,702.6 C278.5,701.73 280.8,698.6 282.5,698.6 C284.2,698.6 285.12,700.42 287,702.6 C288.88,704.78 291.53,710.38 293.8,711.7 C296.07,713.02 298.52,710.32 300.6,710.5 C302.68,710.68 304.42,712.03 306.3,712.8 C308.18,713.57 310.22,715.48 311.9,715.1 C313.58,714.72 314.7,713.33 316.4,710.5 C318.1,707.67 319.92,701.68 322.1,698.1 C324.28,694.52 328.27,690.52 329.5,689" fill="none" stroke="#6699e8" stroke-width="1.5" stroke-linejoin="round" stroke-linecap="round" />
<rect x="48" y="564" width="281.6" height="226" fill="none" stroke="#1a1a1a" stroke-width="1.6"/>
<line x1="48" y1="790" x2="48" y2="794.8" stroke="#1a1a1a" stroke-width="1.6" />
<line x1="136.33" y1="790" x2="136.33" y2="794.8" stroke="#1a1a1a" stroke-width="1.6" />
<line x1="224.67" y1="790" x2="224.67" y2="794.8" stroke="#1a1a1a" stroke-width="1.6" />
<line x1="313" y1="790" x2="313" y2="794.8" stroke="#1a1a1a" stroke-width="1.6" />
<line x1="92.17" y1="790" x2="92.17" y2="792.6" stroke="#1a1a1a" stroke-width="1.6" />
<line x1="180.5" y1="790" x2="180.5" y2="792.6" stroke="#1a1a1a" stroke-width="1.6" />
<line x1="268.84" y1="790" x2="268.84" y2="792.6" stroke="#1a1a1a" stroke-width="1.6" />
<text transform="translate(48 808.9) scale(1 1.04)" font-size="14.4" font-weight="bold" text-anchor="middle" fill="#111" >2000</text>
<text transform="translate(136.33 808.9) scale(1 1.04)" font-size="14.4" font-weight="bold" text-anchor="middle" fill="#111" >1500</text>
<text transform="translate(224.67 808.9) scale(1 1.04)" font-size="14.4" font-weight="bold" text-anchor="middle" fill="#111" >1000</text>
<text transform="translate(313 808.9) scale(1 1.04)" font-size="14.4" font-weight="bold" text-anchor="middle" fill="#111" >500</text>
<text transform="translate(98.1 831.9) scale(1 1.04)" font-size="19.2" font-weight="bold" text-anchor="start" fill="#111" >Wavenumber <tspan font-weight="normal">(</tspan>cm<tspan baseline-shift="7" font-size="63%" font-weight="normal" letter-spacing="1.2">&#8722;1</tspan><tspan font-weight="normal">)</tspan></text>
<text transform="translate(17.8 683.4) rotate(-90) scale(1 1.04)" font-size="19.2" font-weight="bold" text-anchor="middle" fill="#111" >Transmittance <tspan font-weight="normal">(</tspan>%<tspan font-weight="normal">)</tspan></text>
<text transform="translate(53.8 584.7) scale(1 1.04)" font-size="19.5" font-weight="bold" text-anchor="start" fill="#111" ><tspan font-weight="normal">(</tspan>d<tspan font-weight="normal">)</tspan></text>
<text transform="translate(249.5 585.1) scale(1 1.04)" font-size="12.5" font-weight="bold" text-anchor="start" fill="#111" >Ir/IrO<tspan baseline-shift="-3.2" font-size="70%">x</tspan>~SO<tspan baseline-shift="-3.2" font-size="70%">3</tspan>H</text>
<text transform="translate(56 662.6) scale(1 1.04)" font-size="12.4" font-weight="bold" text-anchor="start" fill="#111" >After OER</text>
<text transform="translate(56 738.8) scale(1 1.04)" font-size="12.4" font-weight="bold" text-anchor="start" fill="#111" >Before OER</text>
<text transform="translate(183 703.8) scale(1 1.04)" font-size="12.5" font-weight="bold" text-anchor="start" fill="#111" ><tspan font-weight="normal">&#8722;</tspan>SO<tspan baseline-shift="-3.2" font-size="70%">3</tspan><tspan baseline-shift="3.4" font-size="74%" font-weight="normal">&#8722;</tspan></text>
<g clip-path="url(#ce)">
<polyline points="387.6,667.11 389.1,667.05 390.6,666.96 392.1,666.85 393.6,666.7 395.1,666.54 396.6,666.35 398.1,666.15 399.6,665.92 401.1,665.69 402.6,665.44 404.1,665.19 405.6,664.93 407.1,664.67 408.6,664.4 410.1,664.14 411.6,663.88 413.1,663.63 414.6,663.38 416.1,663.15 417.6,662.93 419.1,662.72 420.6,662.53 422.1,662.34 423.6,662.16 425.1,661.97 426.6,661.79 428.1,661.6 429.6,661.4 431.1,661.2 432.6,660.97 434.1,660.73 435.6,660.48 437.1,660.19 438.6,659.89 440.1,659.55 441.6,659.18 443.1,658.77 444.6,658.33 446.1,657.85 447.6,657.32 449.1,656.74 450.6,656.11 452.1,655.43 453.6,654.68 455.1,653.87 456.6,653 458.1,652.05 459.6,651.05 461.1,650.01 462.6,648.88 464.1,647.67 465.6,646.37 467.1,644.98 468.6,643.49 470.1,641.9 471.6,640.22 473.1,638.43 474.6,636.56 476.1,634.61 477.6,632.6 479.1,630.52 480.6,628.39 482.1,626.21 483.6,623.99 485.1,621.75 486.6,619.49 488.1,617.23 489.6,614.97 491.1,612.74 492.6,610.54 494.1,608.39 495.6,606.31 497.1,604.3 498.6,602.38 500.1,600.57 501.6,598.87 503.1,597.27 504.6,595.78 506.1,594.4 507.6,593.11 509.1,591.93 510.6,590.84 512.1,589.85 513.6,588.95 515.1,588.15 516.6,587.43 518.1,586.81 519.6,586.27 521.1,585.82 522.6,585.45 524.1,585.17 525.6,584.96 527.1,584.83 528.6,584.78 530.1,584.8 531.6,584.89 533.1,585.05 534.6,585.28 536.1,585.58 537.6,585.95 539.1,586.37 540.6,586.86 542.1,587.41 543.6,588.01 545.1,588.68 546.6,589.41 548.1,590.2 549.6,591.06 551.1,592 552.6,593.02 554.1,594.12 555.6,595.31 557.1,596.59 558.6,597.96 560.1,599.42 561.6,600.98 563.1,602.61 564.6,604.32 566.1,606.1 567.6,607.94 569.1,609.84 570.6,611.78 572.1,613.75 573.6,615.75 575.1,617.79 576.6,619.86 578.1,621.96 579.6,624.08 581.1,626.21 582.6,628.35 584.1,630.5 585.6,632.64 587.1,634.77 588.6,636.89 590.1,638.99 591.6,641.06 593.1,643.11 594.6,645.12 596.1,647.08 597.6,649 599.1,650.87 600.6,652.68 602.1,654.42 603.6,656.09 605.1,657.69 606.6,659.21 608.1,660.64 609.6,661.98 611.1,663.23 612.6,664.37 614.1,665.41 615.6,666.35 617.1,667.2 618.6,667.96 620.1,668.64 621.6,669.24 623.1,669.77 624.6,670.22 626.1,670.61 627.6,670.93 629.1,671.21 630.6,671.43 632.1,671.6 633.6,671.73 635.1,671.83 636.6,671.89 638.1,671.93 639.6,671.94 641.1,671.94 642.6,671.92 644.1,671.89 645.6,671.86 647.1,671.83 648.6,671.81 650.1,671.8 651.6,671.8 653.1,671.82 654.6,671.87 656.1,671.95 657.6,672.06 659.1,672.21 660.6,672.4 662.1,672.65 663.6,672.94 665.1,673.3 666.6,673.71 668.1,674.2 669.6,674.65" fill="none" stroke="#c4c4c4" stroke-width="1.3" stroke-linejoin="round" stroke-linecap="round" />
<polyline points="387.6,668.2 389.1,668.21 390.6,668.23 392.1,668.24 393.6,668.25 395.1,668.26 396.6,668.28 398.1,668.29 399.6,668.3 401.1,668.31 402.6,668.33 404.1,668.34 405.6,668.35 407.1,668.36 408.6,668.38 410.1,668.39 411.6,668.4 413.1,668.41 414.6,668.43 416.1,668.44 417.6,668.45 419.1,668.46 420.6,668.48 422.1,668.49 423.6,668.5 425.1,668.52 426.6,668.53 428.1,668.54 429.6,668.55 431.1,668.57 432.6,668.58 434.1,668.59 435.6,668.6 437.1,668.62 438.6,668.63 440.1,668.64 441.6,668.65 443.1,668.67 444.6,668.68 446.1,668.69 447.6,668.7 449.1,668.72 450.6,668.73 452.1,668.74 453.6,668.75 455.1,668.77 456.6,668.78 458.1,668.79 459.6,668.83 461.1,668.89 462.6,668.96 464.1,669.03 465.6,669.1 467.1,669.17 468.6,669.23 470.1,669.3 471.6,669.37 473.1,669.44 474.6,669.5 476.1,669.57 477.6,669.64 479.1,669.71 480.6,669.77 482.1,669.84 483.6,669.91 485.1,669.98 486.6,670.04 488.1,670.11 489.6,670.18 491.1,670.25 492.6,670.31 494.1,670.38 495.6,670.45 497.1,670.52 498.6,670.58 500.1,670.65 501.6,670.72 503.1,670.79 504.6,670.86 506.1,670.92 507.6,670.99 509.1,671.06 510.6,671.13 512.1,671.19 513.6,671.26 515.1,671.33 516.6,671.4 518.1,671.46 519.6,671.53 521.1,671.6 522.6,671.67 524.1,671.73 525.6,671.8 527.1,671.87 528.6,671.94 530.1,672 531.6,672.07 533.1,672.13 534.6,672.2 536.1,672.26 537.6,672.32 539.1,672.39 540.6,672.45 542.1,672.51 543.6,672.58 545.1,672.64 546.6,672.71 548.1,672.77 549.6,672.83 551.1,672.9 552.6,672.96 554.1,673.02 555.6,673.09 557.1,673.15 558.6,673.22 560.1,673.28 561.6,673.34 563.1,673.41 564.6,673.47 566.1,673.53 567.6,673.6 569.1,673.66 570.6,673.71 572.1,673.73 573.6,673.75 575.1,673.78 576.6,673.8 578.1,673.82 579.6,673.84 581.1,673.87 582.6,673.89 584.1,673.91 585.6,673.93 587.1,673.96 588.6,673.98 590.1,674 591.6,674.02 593.1,674.05 594.6,674.07 596.1,674.09 597.6,674.11 599.1,674.14 600.6,674.16 602.1,674.18 603.6,674.21 605.1,674.23 606.6,674.25 608.1,674.27 609.6,674.3 611.1,674.32 612.6,674.34 614.1,674.36 615.6,674.39 617.1,674.41 618.6,674.43 620.1,674.45 621.6,674.48 623.1,674.5 624.6,674.52 626.1,674.54 627.6,674.57 629.1,674.59 630.6,674.61 632.1,674.63 633.6,674.66 635.1,674.68 636.6,674.7 638.1,674.72 639.6,674.75 641.1,674.77 642.6,674.79 644.1,674.81 645.6,674.84 647.1,674.86 648.6,674.88 650.1,674.9 651.6,674.93 653.1,674.95 654.6,674.97 656.1,674.99 657.6,675.02 659.1,675.04 660.6,675.06 662.1,675.08 663.6,675.11 665.1,675.13 666.6,675.15 668.1,675.17 669.6,675.2" fill="none" stroke="#7fd68a" stroke-width="1.5" stroke-linejoin="round" stroke-linecap="round" />
<polyline points="387.6,667.36 389.1,667.21 390.6,667.08 392.1,666.97 393.6,666.87 395.1,666.78 396.6,666.7 398.1,666.64 399.6,666.59 401.1,666.54 402.6,666.5 404.1,666.47 405.6,666.44 407.1,666.42 408.6,666.39 410.1,666.37 411.6,666.35 413.1,666.33 414.6,666.3 416.1,666.26 417.6,666.23 419.1,666.18 420.6,666.13 422.1,666.06 423.6,665.99 425.1,665.9 426.6,665.8 428.1,665.69 429.6,665.56 431.1,665.41 432.6,665.24 434.1,665.05 435.6,664.85 437.1,664.62 438.6,664.36 440.1,664.08 441.6,663.78 443.1,663.44 444.6,663.08 446.1,662.69 447.6,662.26 449.1,661.8 450.6,661.31 452.1,660.77 453.6,660.2 455.1,659.58 456.6,658.93 458.1,658.22 459.6,657.49 461.1,656.74 462.6,655.95 464.1,655.09 465.6,654.19 467.1,653.22 468.6,652.2 470.1,651.12 471.6,649.97 473.1,648.77 474.6,647.54 476.1,646.27 477.6,644.97 479.1,643.67 480.6,642.36 482.1,641.06 483.6,639.78 485.1,638.53 486.6,637.31 488.1,636.14 489.6,635.03 491.1,633.99 492.6,633.02 494.1,632.15 495.6,631.37 497.1,630.7 498.6,630.15 500.1,629.72 501.6,629.42 503.1,629.25 504.6,629.19 506.1,629.24 507.6,629.41 509.1,629.67 510.6,630.03 512.1,630.47 513.6,631.01 515.1,631.62 516.6,632.3 518.1,633.06 519.6,633.87 521.1,634.74 522.6,635.67 524.1,636.64 525.6,637.65 527.1,638.69 528.6,639.77 530.1,640.87 531.6,641.98 533.1,643.11 534.6,644.24 536.1,645.38 537.6,646.51 539.1,647.63 540.6,648.74 542.1,649.83 543.6,650.89 545.1,651.93 546.6,652.93 548.1,653.91 549.6,654.86 551.1,655.79 552.6,656.68 554.1,657.56 555.6,658.4 557.1,659.22 558.6,660.01 560.1,660.78 561.6,661.52 563.1,662.24 564.6,662.94 566.1,663.61 567.6,664.26 569.1,664.88 570.6,665.47 572.1,666.01 573.6,666.53 575.1,667.02 576.6,667.5 578.1,667.95 579.6,668.39 581.1,668.8 582.6,669.19 584.1,669.57 585.6,669.93 587.1,670.26 588.6,670.58 590.1,670.88 591.6,671.17 593.1,671.44 594.6,671.69 596.1,671.92 597.6,672.14 599.1,672.34 600.6,672.53 602.1,672.7 603.6,672.85 605.1,673 606.6,673.13 608.1,673.24 609.6,673.34 611.1,673.43 612.6,673.51 614.1,673.58 615.6,673.63 617.1,673.67 618.6,673.7 620.1,673.72 621.6,673.73 623.1,673.74 624.6,673.73 626.1,673.72 627.6,673.7 629.1,673.68 630.6,673.65 632.1,673.62 633.6,673.6 635.1,673.57 636.6,673.54 638.1,673.51 639.6,673.49 641.1,673.47 642.6,673.45 644.1,673.45 645.6,673.44 647.1,673.45 648.6,673.47 650.1,673.5 651.6,673.54 653.1,673.59 654.6,673.65 656.1,673.74 657.6,673.83 659.1,673.95 660.6,674.08 662.1,674.23 663.6,674.4 665.1,674.59 666.6,674.8 668.1,675.04 669.6,675.2" fill="none" stroke="#a8c8f0" stroke-width="1.5" stroke-linejoin="round" stroke-linecap="round" />
<polyline points="387.6,667.95 389.1,668.05 390.6,668.11 392.1,668.12 393.6,668.09 395.1,668.02 396.6,667.92 398.1,667.79 399.6,667.64 401.1,667.46 402.6,667.27 404.1,667.06 405.6,666.84 407.1,666.61 408.6,666.38 410.1,666.16 411.6,665.93 413.1,665.72 414.6,665.51 416.1,665.32 417.6,665.16 419.1,665.01 420.6,664.88 422.1,664.77 423.6,664.67 425.1,664.59 426.6,664.51 428.1,664.45 429.6,664.4 431.1,664.35 432.6,664.31 434.1,664.27 435.6,664.23 437.1,664.19 438.6,664.15 440.1,664.11 441.6,664.06 443.1,664 444.6,663.93 446.1,663.85 447.6,663.76 449.1,663.66 450.6,663.53 452.1,663.39 453.6,663.23 455.1,663.05 456.6,662.85 458.1,662.62 459.6,662.39 461.1,662.16 462.6,661.9 464.1,661.61 465.6,661.28 467.1,660.92 468.6,660.52 470.1,660.09 471.6,659.61 473.1,659.09 474.6,658.53 476.1,657.92 477.6,657.26 479.1,656.56 480.6,655.8 482.1,654.99 483.6,654.12 485.1,653.2 486.6,652.23 488.1,651.2 489.6,650.12 491.1,648.99 492.6,647.83 494.1,646.62 495.6,645.39 497.1,644.12 498.6,642.82 500.1,641.51 501.6,640.17 503.1,638.81 504.6,637.45 506.1,636.07 507.6,634.7 509.1,633.32 510.6,631.94 512.1,630.57 513.6,629.21 515.1,627.86 516.6,626.53 518.1,625.22 519.6,623.93 521.1,622.68 522.6,621.45 524.1,620.26 525.6,619.12 527.1,618.01 528.6,616.95 530.1,615.94 531.6,614.98 533.1,614.08 534.6,613.24 536.1,612.47 537.6,611.76 539.1,611.13 540.6,610.57 542.1,610.09 543.6,609.7 545.1,609.39 546.6,609.18 548.1,609.06 549.6,609.03 551.1,609.11 552.6,609.3 554.1,609.59 555.6,610 557.1,610.52 558.6,611.16 560.1,611.92 561.6,612.8 563.1,613.77 564.6,614.85 566.1,616.02 567.6,617.28 569.1,618.62 570.6,620.02 572.1,621.47 573.6,622.98 575.1,624.55 576.6,626.17 578.1,627.83 579.6,629.54 581.1,631.28 582.6,633.05 584.1,634.84 585.6,636.65 587.1,638.46 588.6,640.29 590.1,642.11 591.6,643.92 593.1,645.72 594.6,647.5 596.1,649.26 597.6,650.98 599.1,652.67 600.6,654.31 602.1,655.91 603.6,657.44 605.1,658.92 606.6,660.34 608.1,661.67 609.6,662.93 611.1,664.11 612.6,665.2 614.1,666.19 615.6,667.11 617.1,667.94 618.6,668.69 620.1,669.37 621.6,669.98 623.1,670.53 624.6,671.01 626.1,671.43 627.6,671.8 629.1,672.12 630.6,672.39 632.1,672.61 633.6,672.79 635.1,672.94 636.6,673.06 638.1,673.14 639.6,673.2 641.1,673.24 642.6,673.25 644.1,673.26 645.6,673.25 647.1,673.24 648.6,673.22 650.1,673.2 651.6,673.19 653.1,673.18 654.6,673.18 656.1,673.2 657.6,673.24 659.1,673.3 660.6,673.39 662.1,673.5 663.6,673.65 665.1,673.84 666.6,674.06 668.1,674.33 669.6,674.65" fill="none" stroke="#e0646c" stroke-width="1.5" stroke-linejoin="round" stroke-linecap="round" />
<polyline points="387.6,776.13 389.1,776.15 390.6,776.17 392.1,776.02 393.6,775.85 395.1,775.72 396.6,775.62 398.1,775.54 399.6,775.49 401.1,775.47 402.6,775.46 404.1,775.47 405.6,775.5 407.1,775.54 408.6,775.58 410.1,775.63 411.6,775.69 413.1,775.75 414.6,775.8 416.1,775.85 417.6,775.9 419.1,775.93 420.6,775.95 422.1,775.96 423.6,775.95 425.1,775.92 426.6,775.86 428.1,775.78 429.6,775.67 431.1,775.53 432.6,775.35 434.1,775.14 435.6,774.89 437.1,774.59 438.6,774.25 440.1,773.86 441.6,773.41 443.1,772.91 444.6,772.34 446.1,771.72 447.6,771.04 449.1,770.3 450.6,769.51 452.1,768.66 453.6,767.76 455.1,766.81 456.6,765.81 458.1,764.76 459.6,763.66 461.1,762.52 462.6,761.33 464.1,760.09 465.6,758.81 467.1,757.49 468.6,756.13 470.1,754.73 471.6,753.29 473.1,751.82 474.6,750.31 476.1,748.76 477.6,747.18 479.1,745.57 480.6,743.92 482.1,742.25 483.6,740.54 485.1,738.81 486.6,737.06 488.1,735.27 489.6,733.47 491.1,731.64 492.6,729.78 494.1,727.91 495.6,726.03 497.1,724.13 498.6,722.24 500.1,720.35 501.6,718.48 503.1,716.62 504.6,714.78 506.1,712.98 507.6,711.2 509.1,709.47 510.6,707.79 512.1,706.16 513.6,704.59 515.1,703.08 516.6,701.64 518.1,700.28 519.6,699 521.1,697.82 522.6,696.74 524.1,695.78 525.6,694.94 527.1,694.22 528.6,693.63 530.1,693.17 531.6,692.85 533.1,692.66 534.6,692.6 536.1,692.68 537.6,692.9 539.1,693.25 540.6,693.73 542.1,694.34 543.6,695.06 545.1,695.9 546.6,696.84 548.1,697.87 549.6,698.99 551.1,700.19 552.6,701.47 554.1,702.81 555.6,704.22 557.1,705.69 558.6,707.23 560.1,708.83 561.6,710.5 563.1,712.23 564.6,714.02 566.1,715.87 567.6,717.78 569.1,719.75 570.6,721.77 572.1,723.83 573.6,725.94 575.1,728.07 576.6,730.22 578.1,732.4 579.6,734.58 581.1,736.76 582.6,738.94 584.1,741.1 585.6,743.25 587.1,745.36 588.6,747.45 590.1,749.49 591.6,751.48 593.1,753.42 594.6,755.3 596.1,757.11 597.6,758.83 599.1,760.48 600.6,762.03 602.1,763.48 603.6,764.84 605.1,766.12 606.6,767.31 608.1,768.43 609.6,769.44 611.1,770.31 612.6,771.13 614.1,771.89 615.6,772.6 617.1,773.25 618.6,773.86 620.1,774.42 621.6,774.93 623.1,775.4 624.6,775.82 626.1,776.21 627.6,776.55 629.1,776.86 630.6,777.14 632.1,777.38 633.6,777.6 635.1,777.76 636.6,777.86 638.1,777.94 639.6,777.99 641.1,778.03 642.6,778.05 644.1,778.06 645.6,778.06 647.1,778.05 648.6,778.04 650.1,778.04 651.6,778.03 653.1,778.03 654.6,778.04 656.1,778.07 657.6,778.1 659.1,778.16 660.6,778.24 662.1,778.34 663.6,778.34 665.1,778.35 666.6,778.37 668.1,778.41 669.6,778.46" fill="none" stroke="#c4c4c4" stroke-width="1.3" stroke-linejoin="round" stroke-linecap="round" />
<polyline points="387.6,776.3 389.1,776.31 390.6,776.32 392.1,776.33 393.6,776.35 395.1,776.36 396.6,776.37 398.1,776.38 399.6,776.39 401.1,776.4 402.6,776.42 404.1,776.43 405.6,776.44 407.1,776.45 408.6,776.46 410.1,776.47 411.6,776.49 413.1,776.5 414.6,776.51 416.1,776.52 417.6,776.53 419.1,776.54 420.6,776.55 422.1,776.57 423.6,776.58 425.1,776.59 426.6,776.6 428.1,776.61 429.6,776.62 431.1,776.64 432.6,776.65 434.1,776.66 435.6,776.67 437.1,776.68 438.6,776.69 440.1,776.71 441.6,776.72 443.1,776.73 444.6,776.74 446.1,776.75 447.6,776.76 449.1,776.78 450.6,776.79 452.1,776.8 453.6,776.81 455.1,776.82 456.6,776.83 458.1,776.84 459.6,776.86 461.1,776.87 462.6,776.88 464.1,776.89 465.6,776.9 467.1,776.91 468.6,776.93 470.1,776.94 471.6,776.95 473.1,776.96 474.6,776.97 476.1,776.98 477.6,777 479.1,777.01 480.6,777.02 482.1,777.03 483.6,777.04 485.1,777.05 486.6,777.06 488.1,777.08 489.6,777.09 491.1,777.1 492.6,777.11 494.1,777.12 495.6,777.13 497.1,777.15 498.6,777.16 500.1,777.17 501.6,777.18 503.1,777.19 504.6,777.2 506.1,777.22 507.6,777.23 509.1,777.24 510.6,777.25 512.1,777.26 513.6,777.27 515.1,777.28 516.6,777.3 518.1,777.31 519.6,777.32 521.1,777.33 522.6,777.34 524.1,777.35 525.6,777.37 527.1,777.38 528.6,777.39 530.1,777.4 531.6,777.43 533.1,777.45 534.6,777.48 536.1,777.5 537.6,777.53 539.1,777.56 540.6,777.58 542.1,777.61 543.6,777.63 545.1,777.66 546.6,777.68 548.1,777.71 549.6,777.74 551.1,777.76 552.6,777.79 554.1,777.81 555.6,777.84 557.1,777.86 558.6,777.89 560.1,777.92 561.6,777.94 563.1,777.97 564.6,777.99 566.1,778.02 567.6,778.04 569.1,778.07 570.6,778.1 572.1,778.12 573.6,778.15 575.1,778.17 576.6,778.2 578.1,778.22 579.6,778.25 581.1,778.28 582.6,778.3 584.1,778.33 585.6,778.35 587.1,778.38 588.6,778.4 590.1,778.43 591.6,778.46 593.1,778.48 594.6,778.51 596.1,778.53 597.6,778.56 599.1,778.58 600.6,778.6 602.1,778.61 603.6,778.62 605.1,778.63 606.6,778.64 608.1,778.65 609.6,778.66 611.1,778.66 612.6,778.67 614.1,778.68 615.6,778.69 617.1,778.7 618.6,778.71 620.1,778.72 621.6,778.72 623.1,778.73 624.6,778.74 626.1,778.75 627.6,778.76 629.1,778.77 630.6,778.78 632.1,778.78 633.6,778.79 635.1,778.8 636.6,778.81 638.1,778.82 639.6,778.83 641.1,778.84 642.6,778.84 644.1,778.85 645.6,778.86 647.1,778.87 648.6,778.88 650.1,778.89 651.6,778.9 653.1,778.9 654.6,778.91 656.1,778.92 657.6,778.93 659.1,778.94 660.6,778.95 662.1,778.96 663.6,778.96 665.1,778.97 666.6,778.98 668.1,778.99 669.6,779" fill="none" stroke="#7fd68a" stroke-width="1.5" stroke-linejoin="round" stroke-linecap="round" />
<polyline points="387.6,776.3 389.1,776.31 390.6,776.32 392.1,776.16 393.6,775.99 395.1,775.86 396.6,775.76 398.1,775.69 399.6,775.64 401.1,775.63 402.6,775.63 404.1,775.65 405.6,775.69 407.1,775.75 408.6,775.81 410.1,775.88 411.6,775.96 413.1,776.04 414.6,776.11 416.1,776.19 417.6,776.26 419.1,776.31 420.6,776.36 422.1,776.39 423.6,776.4 425.1,776.39 426.6,776.36 428.1,776.3 429.6,776.21 431.1,776.09 432.6,775.94 434.1,775.74 435.6,775.51 437.1,775.23 438.6,774.91 440.1,774.53 441.6,774.11 443.1,773.63 444.6,773.09 446.1,772.51 447.6,771.88 449.1,771.2 450.6,770.48 452.1,769.72 453.6,768.92 455.1,768.09 456.6,767.22 458.1,766.33 459.6,765.41 461.1,764.47 462.6,763.51 464.1,762.53 465.6,761.54 467.1,760.53 468.6,759.52 470.1,758.5 471.6,757.47 473.1,756.45 474.6,755.42 476.1,754.41 477.6,753.4 479.1,752.4 480.6,751.41 482.1,750.44 483.6,749.49 485.1,748.55 486.6,747.65 488.1,746.77 489.6,745.92 491.1,745.1 492.6,744.32 494.1,743.58 495.6,742.88 497.1,742.22 498.6,741.61 500.1,741.05 501.6,740.54 503.1,740.08 504.6,739.68 506.1,739.33 507.6,739.04 509.1,738.82 510.6,738.66 512.1,738.56 513.6,738.53 515.1,738.57 516.6,738.69 518.1,738.87 519.6,739.13 521.1,739.47 522.6,739.89 524.1,740.39 525.6,740.97 527.1,741.63 528.6,742.36 530.1,743.16 531.6,744.02 533.1,744.95 534.6,745.91 536.1,746.92 537.6,747.96 539.1,749.03 540.6,750.12 542.1,751.23 543.6,752.35 545.1,753.47 546.6,754.58 548.1,755.69 549.6,756.78 551.1,757.85 552.6,758.89 554.1,759.9 555.6,760.88 557.1,761.83 558.6,762.75 560.1,763.64 561.6,764.49 563.1,765.32 564.6,766.12 566.1,766.89 567.6,767.63 569.1,768.35 570.6,769.04 572.1,769.7 573.6,770.33 575.1,770.94 576.6,771.53 578.1,772.09 579.6,772.62 581.1,773.13 582.6,773.62 584.1,774.08 585.6,774.52 587.1,774.94 588.6,775.33 590.1,775.71 591.6,776.06 593.1,776.39 594.6,776.7 596.1,776.99 597.6,777.27 599.1,777.52 600.6,777.75 602.1,777.95 603.6,778.13 605.1,778.29 606.6,778.44 608.1,778.57 609.6,778.66 611.1,778.66 612.6,778.67 614.1,778.68 615.6,778.69 617.1,778.7 618.6,778.71 620.1,778.72 621.6,778.72 623.1,778.73 624.6,778.74 626.1,778.75 627.6,778.76 629.1,778.77 630.6,778.78 632.1,778.78 633.6,778.79 635.1,778.78 636.6,778.74 638.1,778.69 639.6,778.64 641.1,778.6 642.6,778.56 644.1,778.52 645.6,778.5 647.1,778.48 648.6,778.47 650.1,778.47 651.6,778.48 653.1,778.5 654.6,778.54 656.1,778.59 657.6,778.65 659.1,778.73 660.6,778.83 662.1,778.95 663.6,778.96 665.1,778.97 666.6,778.98 668.1,778.99 669.6,779" fill="none" stroke="#a8c8f0" stroke-width="1.5" stroke-linejoin="round" stroke-linecap="round" />
<polyline points="387.6,776.13 389.1,776.15 390.6,776.17 392.1,776.19 393.6,776.21 395.1,776.22 396.6,776.23 398.1,776.24 399.6,776.24 401.1,776.25 402.6,776.25 404.1,776.25 405.6,776.24 407.1,776.24 408.6,776.23 410.1,776.23 411.6,776.22 413.1,776.21 414.6,776.2 416.1,776.19 417.6,776.17 419.1,776.16 420.6,776.15 422.1,776.14 423.6,776.13 425.1,776.11 426.6,776.1 428.1,776.09 429.6,776.08 431.1,776.07 432.6,776.06 434.1,776.05 435.6,776.05 437.1,776.04 438.6,776.04 440.1,776.03 441.6,776.02 443.1,776.01 444.6,775.99 446.1,775.96 447.6,775.93 449.1,775.88 450.6,775.82 452.1,775.74 453.6,775.65 455.1,775.55 456.6,775.42 458.1,775.27 459.6,775.11 461.1,774.91 462.6,774.7 464.1,774.45 465.6,774.18 467.1,773.88 468.6,773.54 470.1,773.17 471.6,772.77 473.1,772.33 474.6,771.85 476.1,771.34 477.6,770.78 479.1,770.18 480.6,769.53 482.1,768.84 483.6,768.1 485.1,767.31 486.6,766.47 488.1,765.58 489.6,764.63 491.1,763.63 492.6,762.57 494.1,761.46 495.6,760.28 497.1,759.06 498.6,757.79 500.1,756.47 501.6,755.12 503.1,753.73 504.6,752.31 506.1,750.86 507.6,749.39 509.1,747.89 510.6,746.38 512.1,744.86 513.6,743.33 515.1,741.79 516.6,740.25 518.1,738.72 519.6,737.19 521.1,735.68 522.6,734.2 524.1,732.75 525.6,731.33 527.1,729.97 528.6,728.66 530.1,727.41 531.6,726.25 533.1,725.17 534.6,724.17 536.1,723.27 537.6,722.46 539.1,721.77 540.6,721.19 542.1,720.72 543.6,720.35 545.1,720.09 546.6,719.94 548.1,719.89 549.6,719.95 551.1,720.1 552.6,720.36 554.1,720.72 555.6,721.17 557.1,721.73 558.6,722.37 560.1,723.11 561.6,723.95 563.1,724.87 564.6,725.89 566.1,727 567.6,728.19 569.1,729.47 570.6,730.83 572.1,732.26 573.6,733.75 575.1,735.3 576.6,736.9 578.1,738.54 579.6,740.21 581.1,741.91 582.6,743.62 584.1,745.35 585.6,747.08 587.1,748.81 588.6,750.52 590.1,752.22 591.6,753.88 593.1,755.51 594.6,757.1 596.1,758.64 597.6,760.13 599.1,761.54 600.6,762.88 602.1,764.14 603.6,765.33 605.1,766.45 606.6,767.51 608.1,768.51 609.6,769.44 611.1,770.31 612.6,771.13 614.1,771.89 615.6,772.6 617.1,773.25 618.6,773.86 620.1,774.42 621.6,774.93 623.1,775.4 624.6,775.82 626.1,776.21 627.6,776.55 629.1,776.86 630.6,777.14 632.1,777.38 633.6,777.6 635.1,777.78 636.6,777.94 638.1,778.07 639.6,778.18 641.1,778.27 642.6,778.33 644.1,778.39 645.6,778.42 647.1,778.44 648.6,778.46 650.1,778.46 651.6,778.45 653.1,778.44 654.6,778.42 656.1,778.4 657.6,778.38 659.1,778.37 660.6,778.35 662.1,778.34 663.6,778.34 665.1,778.35 666.6,778.37 668.1,778.41 669.6,778.46" fill="none" stroke="#e0646c" stroke-width="1.5" stroke-linejoin="round" stroke-linecap="round" />
<circle cx="387.12" cy="670.91" r="3.1" fill="#fff" stroke="#333" stroke-width="0.8"/>
<circle cx="388.81" cy="664.56" r="3.1" fill="#fff" stroke="#333" stroke-width="0.8"/>
<circle cx="393.47" cy="664.56" r="3.1" fill="#fff" stroke="#333" stroke-width="0.8"/>
<circle cx="396.64" cy="666.68" r="3.1" fill="#fff" stroke="#333" stroke-width="0.8"/>
<circle cx="399.82" cy="660.97" r="3.1" fill="#fff" stroke="#333" stroke-width="0.8"/>
<circle cx="402.99" cy="673.03" r="3.1" fill="#fff" stroke="#333" stroke-width="0.8"/>
<circle cx="406.17" cy="659.27" r="3.1" fill="#fff" stroke="#333" stroke-width="0.8"/>
<circle cx="409.34" cy="664.56" r="3.1" fill="#fff" stroke="#333" stroke-width="0.8"/>
<circle cx="412.52" cy="663.51" r="3.1" fill="#fff" stroke="#333" stroke-width="0.8"/>
<circle cx="415.69" cy="663.08" r="3.1" fill="#fff" stroke="#333" stroke-width="0.8"/>
<circle cx="418.87" cy="667.32" r="3.1" fill="#fff" stroke="#333" stroke-width="0.8"/>
<circle cx="422.04" cy="663.08" r="3.1" fill="#fff" stroke="#333" stroke-width="0.8"/>
<circle cx="425.22" cy="663.08" r="3.1" fill="#fff" stroke="#333" stroke-width="0.8"/>
<circle cx="428.4" cy="667.74" r="3.1" fill="#fff" stroke="#333" stroke-width="0.8"/>
<circle cx="431.57" cy="661.81" r="3.1" fill="#fff" stroke="#333" stroke-width="0.8"/>
<circle cx="434.75" cy="656.73" r="3.1" fill="#fff" stroke="#333" stroke-width="0.8"/>
<circle cx="437.92" cy="660.33" r="3.1" fill="#fff" stroke="#333" stroke-width="0.8"/>
<circle cx="441.1" cy="668.16" r="3.1" fill="#fff" stroke="#333" stroke-width="0.8"/>
<circle cx="444.27" cy="663.08" r="3.1" fill="#fff" stroke="#333" stroke-width="0.8"/>
<circle cx="447.45" cy="657.15" r="3.1" fill="#fff" stroke="#333" stroke-width="0.8"/>
<circle cx="450.62" cy="657.58" r="3.1" fill="#fff" stroke="#333" stroke-width="0.8"/>
<circle cx="453.8" cy="650.8" r="3.1" fill="#fff" stroke="#333" stroke-width="0.8"/>
<circle cx="456.97" cy="661.39" r="3.1" fill="#fff" stroke="#333" stroke-width="0.8"/>
<circle cx="460.15" cy="644.88" r="3.1" fill="#fff" stroke="#333" stroke-width="0.8"/>
<circle cx="463.32" cy="648.26" r="3.1" fill="#fff" stroke="#333" stroke-width="0.8"/>
<circle cx="466.5" cy="644.03" r="3.1" fill="#fff" stroke="#333" stroke-width="0.8"/>
<circle cx="469.67" cy="643.4" r="3.1" fill="#fff" stroke="#333" stroke-width="0.8"/>
<circle cx="474.97" cy="636.41" r="3.1" fill="#fff" stroke="#333" stroke-width="0.8"/>
<circle cx="478.14" cy="640.64" r="3.1" fill="#fff" stroke="#333" stroke-width="0.8"/>
<circle cx="482.38" cy="634.93" r="3.1" fill="#fff" stroke="#333" stroke-width="0.8"/>
<circle cx="485.55" cy="633.87" r="3.1" fill="#fff" stroke="#333" stroke-width="0.8"/>
<circle cx="483.5" cy="634.2" r="3.1" fill="#fff" stroke="#333" stroke-width="0.8"/>
<circle cx="487.88" cy="619.31" r="3.1" fill="#fff" stroke="#333" stroke-width="0.8"/>
<circle cx="493.14" cy="618.43" r="3.1" fill="#fff" stroke="#333" stroke-width="0.8"/>
<circle cx="499.27" cy="614.58" r="3.1" fill="#fff" stroke="#333" stroke-width="0.8"/>
<circle cx="502.78" cy="614.05" r="3.1" fill="#fff" stroke="#333" stroke-width="0.8"/>
<circle cx="506.28" cy="606.17" r="3.1" fill="#fff" stroke="#333" stroke-width="0.8"/>
<circle cx="509.78" cy="604.42" r="3.1" fill="#fff" stroke="#333" stroke-width="0.8"/>
<circle cx="512.41" cy="586.9" r="3.1" fill="#fff" stroke="#333" stroke-width="0.8"/>
<circle cx="515.91" cy="589.53" r="3.1" fill="#fff" stroke="#333" stroke-width="0.8"/>
<circle cx="519.42" cy="587.78" r="3.1" fill="#fff" stroke="#333" stroke-width="0.8"/>
<circle cx="522.92" cy="584.27" r="3.1" fill="#fff" stroke="#333" stroke-width="0.8"/>
<circle cx="526.43" cy="586.9" r="3.1" fill="#fff" stroke="#333" stroke-width="0.8"/>
<circle cx="529.05" cy="585.67" r="3.1" fill="#fff" stroke="#333" stroke-width="0.8"/>
<circle cx="531.68" cy="580.42" r="3.1" fill="#fff" stroke="#333" stroke-width="0.8"/>
<circle cx="535.19" cy="578.14" r="3.1" fill="#fff" stroke="#333" stroke-width="0.8"/>
<circle cx="537.81" cy="587.78" r="3.1" fill="#fff" stroke="#333" stroke-width="0.8"/>
<circle cx="540.97" cy="580.42" r="3.1" fill="#fff" stroke="#333" stroke-width="0.8"/>
<circle cx="546.57" cy="588.65" r="3.1" fill="#fff" stroke="#333" stroke-width="0.8"/>
<circle cx="550.08" cy="590.4" r="3.1" fill="#fff" stroke="#333" stroke-width="0.8"/>
<circle cx="553.58" cy="597.41" r="3.1" fill="#fff" stroke="#333" stroke-width="0.8"/>
<circle cx="557.08" cy="593.91" r="3.1" fill="#fff" stroke="#333" stroke-width="0.8"/>
<circle cx="560.59" cy="599.16" r="3.1" fill="#fff" stroke="#333" stroke-width="0.8"/>
<circle cx="564.09" cy="601.79" r="3.1" fill="#fff" stroke="#333" stroke-width="0.8"/>
<circle cx="567.6" cy="607.05" r="3.1" fill="#fff" stroke="#333" stroke-width="0.8"/>
<circle cx="569.35" cy="609.67" r="3.1" fill="#fff" stroke="#333" stroke-width="0.8"/>
<circle cx="571.98" cy="615.81" r="3.1" fill="#fff" stroke="#333" stroke-width="0.8"/>
<circle cx="575.48" cy="620.19" r="3.1" fill="#fff" stroke="#333" stroke-width="0.8"/>
<circle cx="578.11" cy="630.7" r="3.1" fill="#fff" stroke="#333" stroke-width="0.8"/>
<circle cx="581.61" cy="631.57" r="3.1" fill="#fff" stroke="#333" stroke-width="0.8"/>
<circle cx="585.12" cy="624.57" r="3.1" fill="#fff" stroke="#333" stroke-width="0.8"/>
<circle cx="575.96" cy="620.1" r="3.1" fill="#fff" stroke="#333" stroke-width="0.8"/>
<circle cx="578.19" cy="630.52" r="3.1" fill="#fff" stroke="#333" stroke-width="0.8"/>
<circle cx="581.91" cy="632.01" r="3.1" fill="#fff" stroke="#333" stroke-width="0.8"/>
<circle cx="587.87" cy="634.99" r="3.1" fill="#fff" stroke="#333" stroke-width="0.8"/>
<circle cx="590.85" cy="635.74" r="3.1" fill="#fff" stroke="#333" stroke-width="0.8"/>
<circle cx="593.82" cy="639.01" r="3.1" fill="#fff" stroke="#333" stroke-width="0.8"/>
<circle cx="597.55" cy="648.39" r="3.1" fill="#fff" stroke="#333" stroke-width="0.8"/>
<circle cx="600.52" cy="651.37" r="3.1" fill="#fff" stroke="#333" stroke-width="0.8"/>
<circle cx="603.5" cy="654.35" r="3.1" fill="#fff" stroke="#333" stroke-width="0.8"/>
<circle cx="606.48" cy="661.05" r="3.1" fill="#fff" stroke="#333" stroke-width="0.8"/>
<circle cx="609.46" cy="662.24" r="3.1" fill="#fff" stroke="#333" stroke-width="0.8"/>
<circle cx="613.18" cy="661.79" r="3.1" fill="#fff" stroke="#333" stroke-width="0.8"/>
<circle cx="616.16" cy="671.47" r="3.1" fill="#fff" stroke="#333" stroke-width="0.8"/>
<circle cx="619.88" cy="672.22" r="3.1" fill="#fff" stroke="#333" stroke-width="0.8"/>
<circle cx="622.86" cy="665.52" r="3.1" fill="#fff" stroke="#333" stroke-width="0.8"/>
<circle cx="625.84" cy="668.49" r="3.1" fill="#fff" stroke="#333" stroke-width="0.8"/>
<circle cx="628.81" cy="676.68" r="3.1" fill="#fff" stroke="#333" stroke-width="0.8"/>
<circle cx="631.79" cy="669.24" r="3.1" fill="#fff" stroke="#333" stroke-width="0.8"/>
<circle cx="635.52" cy="667.75" r="3.1" fill="#fff" stroke="#333" stroke-width="0.8"/>
<circle cx="638.49" cy="665.52" r="3.1" fill="#fff" stroke="#333" stroke-width="0.8"/>
<circle cx="641.47" cy="672.96" r="3.1" fill="#fff" stroke="#333" stroke-width="0.8"/>
<circle cx="644.45" cy="670.73" r="3.1" fill="#fff" stroke="#333" stroke-width="0.8"/>
<circle cx="647.43" cy="679.66" r="3.1" fill="#fff" stroke="#333" stroke-width="0.8"/>
<circle cx="651.15" cy="680.41" r="3.1" fill="#fff" stroke="#333" stroke-width="0.8"/>
<circle cx="654.13" cy="667" r="3.1" fill="#fff" stroke="#333" stroke-width="0.8"/>
<circle cx="657.11" cy="675.94" r="3.1" fill="#fff" stroke="#333" stroke-width="0.8"/>
<circle cx="660.08" cy="661.79" r="3.1" fill="#fff" stroke="#333" stroke-width="0.8"/>
<circle cx="663.81" cy="672.96" r="3.1" fill="#fff" stroke="#333" stroke-width="0.8"/>
<circle cx="666.78" cy="673.7" r="3.1" fill="#fff" stroke="#333" stroke-width="0.8"/>
<circle cx="669.02" cy="680.41" r="3.1" fill="#fff" stroke="#333" stroke-width="0.8"/>
<circle cx="388.18" cy="782.67" r="3.1" fill="#fff" stroke="#333" stroke-width="0.8"/>
<circle cx="390.29" cy="773.14" r="3.1" fill="#fff" stroke="#333" stroke-width="0.8"/>
<circle cx="393.47" cy="777.38" r="3.1" fill="#fff" stroke="#333" stroke-width="0.8"/>
<circle cx="396.64" cy="774.2" r="3.1" fill="#fff" stroke="#333" stroke-width="0.8"/>
<circle cx="399.82" cy="781.61" r="3.1" fill="#fff" stroke="#333" stroke-width="0.8"/>
<circle cx="402.99" cy="781.19" r="3.1" fill="#fff" stroke="#333" stroke-width="0.8"/>
<circle cx="406.17" cy="772.08" r="3.1" fill="#fff" stroke="#333" stroke-width="0.8"/>
<circle cx="409.34" cy="774.2" r="3.1" fill="#fff" stroke="#333" stroke-width="0.8"/>
<circle cx="412.52" cy="776.32" r="3.1" fill="#fff" stroke="#333" stroke-width="0.8"/>
<circle cx="415.69" cy="763.62" r="3.1" fill="#fff" stroke="#333" stroke-width="0.8"/>
<circle cx="418.87" cy="785.42" r="3.1" fill="#fff" stroke="#333" stroke-width="0.8"/>
<circle cx="422.04" cy="771.02" r="3.1" fill="#fff" stroke="#333" stroke-width="0.8"/>
<circle cx="425.22" cy="778.43" r="3.1" fill="#fff" stroke="#333" stroke-width="0.8"/>
<circle cx="428.4" cy="773.14" r="3.1" fill="#fff" stroke="#333" stroke-width="0.8"/>
<circle cx="431.57" cy="771.45" r="3.1" fill="#fff" stroke="#333" stroke-width="0.8"/>
<circle cx="434.75" cy="768.91" r="3.1" fill="#fff" stroke="#333" stroke-width="0.8"/>
<circle cx="437.92" cy="771.02" r="3.1" fill="#fff" stroke="#333" stroke-width="0.8"/>
<circle cx="441.1" cy="765.73" r="3.1" fill="#fff" stroke="#333" stroke-width="0.8"/>
<circle cx="444.27" cy="773.14" r="3.1" fill="#fff" stroke="#333" stroke-width="0.8"/>
<circle cx="447.45" cy="766.79" r="3.1" fill="#fff" stroke="#333" stroke-width="0.8"/>
<circle cx="450.62" cy="772.08" r="3.1" fill="#fff" stroke="#333" stroke-width="0.8"/>
<circle cx="453.8" cy="769.97" r="3.1" fill="#fff" stroke="#333" stroke-width="0.8"/>
<circle cx="456.97" cy="765.73" r="3.1" fill="#fff" stroke="#333" stroke-width="0.8"/>
<circle cx="460.15" cy="763.62" r="3.1" fill="#fff" stroke="#333" stroke-width="0.8"/>
<circle cx="463.32" cy="759.38" r="3.1" fill="#fff" stroke="#333" stroke-width="0.8"/>
<circle cx="466.5" cy="754.09" r="3.1" fill="#fff" stroke="#333" stroke-width="0.8"/>
<circle cx="469.67" cy="760.44" r="3.1" fill="#fff" stroke="#333" stroke-width="0.8"/>
<circle cx="472.85" cy="751.97" r="3.1" fill="#fff" stroke="#333" stroke-width="0.8"/>
<circle cx="476.02" cy="754.09" r="3.1" fill="#fff" stroke="#333" stroke-width="0.8"/>
<circle cx="478.14" cy="742.45" r="3.1" fill="#fff" stroke="#333" stroke-width="0.8"/>
<circle cx="482.38" cy="749.86" r="3.1" fill="#fff" stroke="#333" stroke-width="0.8"/>
<circle cx="484.49" cy="746.68" r="3.1" fill="#fff" stroke="#333" stroke-width="0.8"/>
<circle cx="487.67" cy="730.8" r="3.1" fill="#fff" stroke="#333" stroke-width="0.8"/>
<circle cx="490.84" cy="730.8" r="3.1" fill="#fff" stroke="#333" stroke-width="0.8"/>
<circle cx="497.19" cy="724.45" r="3.1" fill="#fff" stroke="#333" stroke-width="0.8"/>
<circle cx="500.37" cy="714.93" r="3.1" fill="#fff" stroke="#333" stroke-width="0.8"/>
<circle cx="503.54" cy="718.1" r="3.1" fill="#fff" stroke="#333" stroke-width="0.8"/>
<circle cx="506.72" cy="717.68" r="3.1" fill="#fff" stroke="#333" stroke-width="0.8"/>
<circle cx="484.38" cy="746.57" r="3.1" fill="#fff" stroke="#333" stroke-width="0.8"/>
<circle cx="487.01" cy="731.68" r="3.1" fill="#fff" stroke="#333" stroke-width="0.8"/>
<circle cx="490.51" cy="730.81" r="3.1" fill="#fff" stroke="#333" stroke-width="0.8"/>
<circle cx="496.64" cy="725.2" r="3.1" fill="#fff" stroke="#333" stroke-width="0.8"/>
<circle cx="500.15" cy="715.04" r="3.1" fill="#fff" stroke="#333" stroke-width="0.8"/>
<circle cx="503.65" cy="718.54" r="3.1" fill="#fff" stroke="#333" stroke-width="0.8"/>
<circle cx="506.28" cy="716.79" r="3.1" fill="#fff" stroke="#333" stroke-width="0.8"/>
<circle cx="509.78" cy="706.28" r="3.1" fill="#fff" stroke="#333" stroke-width="0.8"/>
<circle cx="512.41" cy="698.4" r="3.1" fill="#fff" stroke="#333" stroke-width="0.8"/>
<circle cx="515.91" cy="704.53" r="3.1" fill="#fff" stroke="#333" stroke-width="0.8"/>
<circle cx="518.54" cy="698.4" r="3.1" fill="#fff" stroke="#333" stroke-width="0.8"/>
<circle cx="522.05" cy="691.39" r="3.1" fill="#fff" stroke="#333" stroke-width="0.8"/>
<circle cx="525.2" cy="702.78" r="3.1" fill="#fff" stroke="#333" stroke-width="0.8"/>
<circle cx="528.18" cy="687.36" r="3.1" fill="#fff" stroke="#333" stroke-width="0.8"/>
<circle cx="531.68" cy="698.4" r="3.1" fill="#fff" stroke="#333" stroke-width="0.8"/>
<circle cx="534.31" cy="692.26" r="3.1" fill="#fff" stroke="#333" stroke-width="0.8"/>
<circle cx="537.81" cy="691.39" r="3.1" fill="#fff" stroke="#333" stroke-width="0.8"/>
<circle cx="540.97" cy="697.52" r="3.1" fill="#fff" stroke="#333" stroke-width="0.8"/>
<circle cx="543.95" cy="690.51" r="3.1" fill="#fff" stroke="#333" stroke-width="0.8"/>
<circle cx="546.92" cy="691.39" r="3.1" fill="#fff" stroke="#333" stroke-width="0.8"/>
<circle cx="550.08" cy="702.78" r="3.1" fill="#fff" stroke="#333" stroke-width="0.8"/>
<circle cx="553.58" cy="703.65" r="3.1" fill="#fff" stroke="#333" stroke-width="0.8"/>
<circle cx="556.73" cy="710.66" r="3.1" fill="#fff" stroke="#333" stroke-width="0.8"/>
<circle cx="559.71" cy="702.42" r="3.1" fill="#fff" stroke="#333" stroke-width="0.8"/>
<circle cx="563.22" cy="712.41" r="3.1" fill="#fff" stroke="#333" stroke-width="0.8"/>
<circle cx="568.47" cy="717.67" r="3.1" fill="#fff" stroke="#333" stroke-width="0.8"/>
<circle cx="572.5" cy="721.17" r="3.1" fill="#fff" stroke="#333" stroke-width="0.8"/>
<circle cx="575.48" cy="729.05" r="3.1" fill="#fff" stroke="#333" stroke-width="0.8"/>
<circle cx="578.98" cy="733.43" r="3.1" fill="#fff" stroke="#333" stroke-width="0.8"/>
<circle cx="581.26" cy="735.19" r="3.1" fill="#fff" stroke="#333" stroke-width="0.8"/>
<circle cx="584.77" cy="741.32" r="3.1" fill="#fff" stroke="#333" stroke-width="0.8"/>
<circle cx="584.89" cy="741.05" r="3.1" fill="#fff" stroke="#333" stroke-width="0.8"/>
<circle cx="587.87" cy="751.47" r="3.1" fill="#fff" stroke="#333" stroke-width="0.8"/>
<circle cx="591.59" cy="749.98" r="3.1" fill="#fff" stroke="#333" stroke-width="0.8"/>
<circle cx="593.82" cy="757.43" r="3.1" fill="#fff" stroke="#333" stroke-width="0.8"/>
<circle cx="597.55" cy="760.41" r="3.1" fill="#fff" stroke="#333" stroke-width="0.8"/>
<circle cx="600.52" cy="755.94" r="3.1" fill="#fff" stroke="#333" stroke-width="0.8"/>
<circle cx="603.5" cy="761.89" r="3.1" fill="#fff" stroke="#333" stroke-width="0.8"/>
<circle cx="606.48" cy="767.85" r="3.1" fill="#fff" stroke="#333" stroke-width="0.8"/>
<circle cx="609.46" cy="776.04" r="3.1" fill="#fff" stroke="#333" stroke-width="0.8"/>
<circle cx="613.18" cy="776.49" r="3.1" fill="#fff" stroke="#333" stroke-width="0.8"/>
<circle cx="616.16" cy="769.04" r="3.1" fill="#fff" stroke="#333" stroke-width="0.8"/>
<circle cx="619.88" cy="769.34" r="3.1" fill="#fff" stroke="#333" stroke-width="0.8"/>
<circle cx="622.86" cy="777.53" r="3.1" fill="#fff" stroke="#333" stroke-width="0.8"/>
<circle cx="625.84" cy="769.34" r="3.1" fill="#fff" stroke="#333" stroke-width="0.8"/>
<circle cx="629.56" cy="777.53" r="3.1" fill="#fff" stroke="#333" stroke-width="0.8"/>
<circle cx="631.79" cy="782.44" r="3.1" fill="#fff" stroke="#333" stroke-width="0.8"/>
<circle cx="635.52" cy="782.74" r="3.1" fill="#fff" stroke="#333" stroke-width="0.8"/>
<circle cx="638.49" cy="774.1" r="3.1" fill="#fff" stroke="#333" stroke-width="0.8"/>
<circle cx="641.47" cy="782.44" r="3.1" fill="#fff" stroke="#333" stroke-width="0.8"/>
<circle cx="644.45" cy="774.55" r="3.1" fill="#fff" stroke="#333" stroke-width="0.8"/>
<circle cx="647.43" cy="780.51" r="3.1" fill="#fff" stroke="#333" stroke-width="0.8"/>
<circle cx="651.15" cy="776.04" r="3.1" fill="#fff" stroke="#333" stroke-width="0.8"/>
<circle cx="654.13" cy="786.46" r="3.1" fill="#fff" stroke="#333" stroke-width="0.8"/>
<circle cx="657.11" cy="779.76" r="3.1" fill="#fff" stroke="#333" stroke-width="0.8"/>
<circle cx="660.08" cy="778.27" r="3.1" fill="#fff" stroke="#333" stroke-width="0.8"/>
<circle cx="663.81" cy="789.44" r="3.1" fill="#fff" stroke="#333" stroke-width="0.8"/>
<circle cx="666.78" cy="777.53" r="3.1" fill="#fff" stroke="#333" stroke-width="0.8"/>
<circle cx="669.02" cy="772.32" r="3.1" fill="#fff" stroke="#333" stroke-width="0.8"/>
</g>
<rect x="387.6" y="563.3" width="282.2" height="227.2" fill="none" stroke="#1a1a1a" stroke-width="1.6"/>
<line x1="419" y1="790.5" x2="419" y2="795.3" stroke="#1a1a1a" stroke-width="1.6" />
<line x1="481.7" y1="790.5" x2="481.7" y2="795.3" stroke="#1a1a1a" stroke-width="1.6" />
<line x1="544.4" y1="790.5" x2="544.4" y2="795.3" stroke="#1a1a1a" stroke-width="1.6" />
<line x1="607.1" y1="790.5" x2="607.1" y2="795.3" stroke="#1a1a1a" stroke-width="1.6" />
<line x1="669.8" y1="790.5" x2="669.8" y2="795.3" stroke="#1a1a1a" stroke-width="1.6" />
<line x1="450.35" y1="790.5" x2="450.35" y2="793.1" stroke="#1a1a1a" stroke-width="1.6" />
<line x1="513.05" y1="790.5" x2="513.05" y2="793.1" stroke="#1a1a1a" stroke-width="1.6" />
<line x1="575.75" y1="790.5" x2="575.75" y2="793.1" stroke="#1a1a1a" stroke-width="1.6" />
<line x1="638.45" y1="790.5" x2="638.45" y2="793.1" stroke="#1a1a1a" stroke-width="1.6" />
<text transform="translate(419 808.9) scale(1 1.04)" font-size="14.4" font-weight="bold" text-anchor="middle" fill="#111" >172</text>
<text transform="translate(481.7 808.9) scale(1 1.04)" font-size="14.4" font-weight="bold" text-anchor="middle" fill="#111" >170</text>
<text transform="translate(544.4 808.9) scale(1 1.04)" font-size="14.4" font-weight="bold" text-anchor="middle" fill="#111" >168</text>
<text transform="translate(607.1 808.9) scale(1 1.04)" font-size="14.4" font-weight="bold" text-anchor="middle" fill="#111" >166</text>
<text transform="translate(669.8 808.9) scale(1 1.04)" font-size="14.4" font-weight="bold" text-anchor="middle" fill="#111" >164</text>
<text transform="translate(438.2 832.3) scale(1 1.04)" font-size="19.2" font-weight="bold" text-anchor="start" fill="#111" >Binding energy <tspan font-weight="normal">(</tspan>eV<tspan font-weight="normal">)</tspan></text>
<text transform="translate(364 681.8) rotate(-90) scale(1 1.04)" font-size="19.2" font-weight="bold" text-anchor="middle" fill="#111" >Intensity <tspan font-weight="normal">(</tspan>a.u.<tspan font-weight="normal">)</tspan></text>
<text transform="translate(393.1 584.5) scale(1 1.04)" font-size="19.5" font-weight="bold" text-anchor="start" fill="#111" ><tspan font-weight="normal">(</tspan>e<tspan font-weight="normal">)</tspan></text>
<text transform="translate(395.3 629.6) scale(1 1.04)" font-size="13.1" font-weight="bold" text-anchor="start" fill="#111" >After OER</text>
<text transform="translate(395.3 740.3) scale(1 1.04)" font-size="13.1" font-weight="bold" text-anchor="start" fill="#111" >Before OER</text>
<text transform="translate(456.6 589.1) scale(1 1.04)" font-size="12.4" font-weight="bold" text-anchor="start" fill="#111" >S <tspan dx="1" font-style="italic">2p</tspan><tspan baseline-shift="-3.2" font-size="70%">1/2</tspan></text>
<text transform="translate(561.2 580.8) scale(1 1.04)" font-size="12.4" font-weight="bold" text-anchor="start" fill="#111" >S <tspan dx="1" font-style="italic">2p</tspan><tspan baseline-shift="-3.2" font-size="70%">3/2</tspan></text>
<text transform="translate(459.1 701.8) scale(1 1.04)" font-size="12.4" font-weight="bold" text-anchor="start" fill="#111" >S <tspan dx="1" font-style="italic">2p</tspan><tspan baseline-shift="-3.2" font-size="70%">1/2</tspan></text>
<text transform="translate(562.3 694) scale(1 1.04)" font-size="12.4" font-weight="bold" text-anchor="start" fill="#111" >S <tspan dx="1" font-style="italic">2p</tspan><tspan baseline-shift="-3.2" font-size="70%">3/2</tspan></text>
<text transform="translate(589.1 623.2) scale(1 1.04)" font-size="12.9" font-weight="bold" text-anchor="start" fill="#111" >Ir/IrO<tspan baseline-shift="-3.2" font-size="70%">x</tspan>~SO<tspan baseline-shift="-3.2" font-size="70%">3</tspan>H</text>
<text transform="translate(620.3 641.7) scale(1 1.04)" font-size="12.4" font-weight="bold" text-anchor="start" fill="#111" >S <tspan dx="1" font-style="italic">2p</tspan></text>
<line x1="477.4" y1="595.7" x2="495.66" y2="622.32" stroke="#111" stroke-width="1.5" />
<path d="M499.9,628.5 L493.02,624.13 L498.3,620.51 Z" fill="#111"/>
<line x1="577" y1="585.8" x2="565.85" y2="602.56" stroke="#111" stroke-width="1.5" />
<path d="M561.7,608.8 L563.19,600.78 L568.52,604.33 Z" fill="#111"/>
<line x1="478.1" y1="707.5" x2="496.62" y2="733.21" stroke="#111" stroke-width="1.5" />
<path d="M501,739.3 L494.02,735.08 L499.21,731.34 Z" fill="#111"/>
<line x1="577.2" y1="699.3" x2="565.13" y2="715.22" stroke="#111" stroke-width="1.5" />
<path d="M560.6,721.2 L562.58,713.29 L567.68,717.16 Z" fill="#111"/>
</svg>
</body></html>
